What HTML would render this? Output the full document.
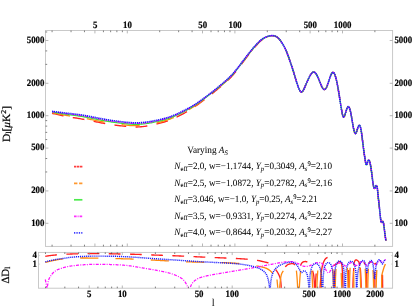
<!DOCTYPE html>
<html><head><meta charset="utf-8"><title>CMB power spectrum</title>
<style>
html,body{margin:0;padding:0;background:#fff;}
body{width:415px;height:308px;overflow:hidden;font-family:"Liberation Serif",serif;}
svg{display:block;will-change:transform;}
svg text{font-family:"Liberation Serif",serif;text-rendering:geometricPrecision;}
</style></head><body>
<svg width="415" height="308" viewBox="0 0 415 308">
<rect width="415" height="308" fill="#fff"/>
<defs>
<clipPath id="cm"><rect x="45.50" y="30.50" width="347.10" height="215.90"/></clipPath>
<clipPath id="cb"><rect x="38.50" y="252.40" width="354.10" height="35.50"/></clipPath>
</defs>
<g clip-path="url(#cm)">
<path d="M52.00 113.30 L53.00 113.50 L54.00 113.72 L55.00 113.94 L56.00 114.16 L57.00 114.39 L58.00 114.62 L59.00 114.85 L60.00 115.07 L61.00 115.30 L62.00 115.52 L63.00 115.74 L64.00 115.96 L65.00 116.16 L66.00 116.36 L67.00 116.56 L68.00 116.74 L69.00 116.92 L70.00 117.10 L71.00 117.26 L72.00 117.43 L73.00 117.58 L74.00 117.73 L75.00 117.88 L76.00 118.03 L77.00 118.18 L78.00 118.34 L79.00 118.51 L80.00 118.68 L81.00 118.86 L82.00 119.04 L83.00 119.22 L84.00 119.41 L85.00 119.60 L86.00 119.80 L87.00 120.00 L88.00 120.20 L89.00 120.40 L90.00 120.60 L91.00 120.80 L92.00 121.00 L93.00 121.21 L94.00 121.41 L95.00 121.61 L96.00 121.81 L97.00 122.01 L98.00 122.21 L99.00 122.41 L100.00 122.60 L101.00 122.79 L102.00 122.98 L103.00 123.17 L104.00 123.35 L105.00 123.53 L106.00 123.71 L107.00 123.89 L108.00 124.06 L109.00 124.22 L110.00 124.38 L111.00 124.54 L112.00 124.69 L113.00 124.84 L114.00 124.97 L115.00 125.11 L116.00 125.24 L117.00 125.36 L118.00 125.48 L119.00 125.60 L120.00 125.72 L121.00 125.83 L122.00 125.94 L123.00 126.05 L124.00 126.16 L125.00 126.27 L126.00 126.38 L127.00 126.48 L128.00 126.58 L129.00 126.67 L130.00 126.75 L131.00 126.83 L132.00 126.89 L133.00 126.93 L134.00 126.96 L135.00 126.98 L136.00 126.98 L137.00 126.96 L138.00 126.94 L139.00 126.89 L140.00 126.84 L141.00 126.76 L142.00 126.68 L143.00 126.57 L144.00 126.45 L145.00 126.31 L146.00 126.16 L147.00 126.00 L148.00 125.83 L149.00 125.64 L150.00 125.45 L151.00 125.24 L152.00 125.03 L153.00 124.81 L154.00 124.59 L155.00 124.36 L156.00 124.12 L157.00 123.89 L158.00 123.65 L159.00 123.40 L160.00 123.15 L161.00 122.89 L162.00 122.62 L163.00 122.35 L164.00 122.06 L165.00 121.76 L166.00 121.44 L167.00 121.11 L168.00 120.77 L169.00 120.41 L170.00 120.03 L171.00 119.63 L172.00 119.22 L173.00 118.80 L174.00 118.36 L175.00 117.90 L176.00 117.43 L177.00 116.96 L178.00 116.46 L179.00 115.96 L180.00 115.45 L181.00 114.93 L182.00 114.40 L183.00 113.86 L184.00 113.31 L185.00 112.75 L186.00 112.17 L187.00 111.59 L188.00 110.99 L189.00 110.39 L190.00 109.77 L191.00 109.14 L192.00 108.50 L193.00 107.84 L194.00 107.18 L195.00 106.50 L196.00 105.81 L197.00 105.12 L198.00 104.41 L199.00 103.69 L200.00 102.97 L201.00 102.24 L202.00 101.51 L203.00 100.76 L204.00 100.00 L205.00 99.24 L206.00 98.47 L207.00 97.70 L208.00 96.92 L209.00 96.13 L210.00 95.34 L211.00 94.54 L212.00 93.74 L213.00 92.93 L214.00 92.12 L215.00 91.30 L216.00 90.48 L217.00 89.66 L218.00 88.83 L219.00 88.00 L220.00 87.16 L221.00 86.32 L222.00 85.48 L223.00 84.63 L224.00 83.77 L225.00 82.89 L226.00 82.00 L227.00 81.09 L228.00 80.15 L229.00 79.19 L230.00 78.20 L231.00 77.17 L232.00 76.10 L233.00 74.99 L234.00 73.84 L235.00 72.65 L236.00 71.42 L237.00 70.16 L238.00 68.88 L239.00 67.57 L240.00 66.25 L241.00 64.91 L242.00 63.57 L243.00 62.22 L244.00 60.87 L245.00 59.53 L246.00 58.20 L247.00 56.89 L248.00 55.59 L249.00 54.31 L250.00 53.04 L251.00 51.80 L252.00 50.57 L253.00 49.36 L254.00 48.18 L255.00 47.01 L256.00 45.87 L257.00 44.74 L258.00 43.64 L259.00 42.59 L260.00 41.60 L261.00 40.68 L262.00 39.85 L263.00 39.12 L264.00 38.48 L265.00 37.92 L266.00 37.44 L267.00 37.03 L268.00 36.67 L269.00 36.35 L270.00 36.09 L271.00 35.91 L272.00 35.80 L273.00 35.78 L274.00 35.89 L275.00 36.12 L276.00 36.52 L277.00 37.10 L278.00 37.88 L279.00 38.87 L280.00 40.06 L281.00 41.41 L282.00 42.91 L283.00 44.52 L284.00 46.28 L285.00 48.21 L286.00 50.37 L287.00 52.79 L288.00 55.44 L289.00 58.24 L290.00 61.15 L290.25 61.89 L290.50 62.63 L290.75 63.36 L291.00 64.10 L291.25 64.84 L291.50 65.57 L291.75 66.31 L292.00 67.06 L292.25 67.81 L292.50 68.58 L292.75 69.36 L293.00 70.15 L293.25 70.95 L293.50 71.77 L293.75 72.59 L294.00 73.42 L294.25 74.26 L294.50 75.10 L294.75 75.94 L295.00 76.78 L295.25 77.62 L295.50 78.46 L295.75 79.29 L296.00 80.12 L296.25 80.94 L296.50 81.74 L296.75 82.54 L297.00 83.32 L297.25 84.09 L297.50 84.84 L297.75 85.57 L298.00 86.28 L298.25 86.97 L298.50 87.63 L298.75 88.26 L299.00 88.85 L299.25 89.41 L299.50 89.92 L299.75 90.39 L300.00 90.80 L300.25 91.16 L300.50 91.46 L300.75 91.70 L301.00 91.87 L301.25 91.98 L301.50 92.00 L301.75 91.95 L302.00 91.83 L302.25 91.65 L302.50 91.40 L302.75 91.10 L303.00 90.75 L303.25 90.35 L303.50 89.92 L303.75 89.44 L304.00 88.93 L304.25 88.40 L304.50 87.84 L304.75 87.27 L305.00 86.69 L305.25 86.09 L305.50 85.50 L305.75 84.91 L306.00 84.32 L306.25 83.73 L306.50 83.15 L306.75 82.57 L307.00 82.00 L307.25 81.43 L307.50 80.87 L307.75 80.32 L308.00 79.78 L308.25 79.24 L308.50 78.72 L308.75 78.20 L309.00 77.69 L309.25 77.20 L309.50 76.71 L309.75 76.24 L310.00 75.79 L310.25 75.35 L310.50 74.93 L310.75 74.53 L311.00 74.15 L311.25 73.80 L311.50 73.47 L311.75 73.17 L312.00 72.90 L312.25 72.66 L312.50 72.46 L312.75 72.29 L313.00 72.15 L313.25 72.06 L313.50 72.01 L313.75 72.00 L314.00 72.03 L314.25 72.11 L314.50 72.23 L314.75 72.39 L315.00 72.59 L315.25 72.82 L315.50 73.10 L315.75 73.40 L316.00 73.75 L316.25 74.12 L316.50 74.52 L316.75 74.95 L317.00 75.41 L317.25 75.89 L317.50 76.40 L317.75 76.93 L318.00 77.48 L318.25 78.05 L318.50 78.64 L318.75 79.24 L319.00 79.86 L319.25 80.48 L319.50 81.11 L319.75 81.74 L320.00 82.37 L320.25 83.00 L320.50 83.62 L320.75 84.22 L321.00 84.81 L321.25 85.38 L321.50 85.93 L321.75 86.46 L322.00 86.95 L322.25 87.41 L322.50 87.84 L322.75 88.22 L323.00 88.57 L323.25 88.86 L323.50 89.11 L323.75 89.30 L324.00 89.44 L324.25 89.51 L324.50 89.52 L324.75 89.46 L325.00 89.33 L325.25 89.13 L325.50 88.88 L325.75 88.56 L326.00 88.18 L326.25 87.76 L326.50 87.28 L326.75 86.75 L327.00 86.17 L327.25 85.56 L327.50 84.90 L327.75 84.21 L328.00 83.48 L328.25 82.73 L328.50 81.97 L328.75 81.19 L329.00 80.41 L329.25 79.63 L329.50 78.86 L329.75 78.11 L330.00 77.38 L330.25 76.68 L330.50 76.02 L330.75 75.40 L331.00 74.82 L331.25 74.29 L331.50 73.81 L331.75 73.39 L332.00 73.04 L332.25 72.76 L332.50 72.55 L332.75 72.42 L333.00 72.37 L333.25 72.42 L333.50 72.55 L333.75 72.77 L334.00 73.08 L334.25 73.48 L334.50 73.95 L334.75 74.51 L335.00 75.14 L335.25 75.85 L335.50 76.63 L335.75 77.48 L336.00 78.40 L336.25 79.38 L336.50 80.43 L336.75 81.54 L337.00 82.70 L337.25 83.92 L337.50 85.20 L337.75 86.53 L338.00 87.90 L338.25 89.33 L338.50 90.80 L338.75 92.31 L339.00 93.86 L339.25 95.44 L339.50 97.05 L339.75 98.66 L340.00 100.27 L340.25 101.89 L340.50 103.48 L340.75 105.06 L341.00 106.61 L341.25 108.12 L341.50 109.58 L341.75 110.98 L342.00 112.29 L342.25 113.49 L342.50 114.56 L342.75 115.47 L343.00 116.19 L343.25 116.70 L343.50 116.98 L343.75 117.03 L344.00 116.87 L344.25 116.52 L344.50 116.03 L344.75 115.41 L345.00 114.69 L345.25 113.90 L345.50 113.07 L345.75 112.23 L346.00 111.40 L346.25 110.59 L346.50 109.83 L346.75 109.11 L347.00 108.46 L347.25 107.88 L347.50 107.39 L347.75 107.01 L348.00 106.74 L348.25 106.60 L348.50 106.60 L348.75 106.75 L349.00 107.05 L349.25 107.50 L349.50 108.08 L349.75 108.78 L350.00 109.61 L350.25 110.55 L350.50 111.61 L350.75 112.76 L351.00 114.01 L351.25 115.34 L351.50 116.74 L351.75 118.19 L352.00 119.67 L352.25 121.15 L352.50 122.64 L352.75 124.09 L353.00 125.50 L353.25 126.85 L353.50 128.12 L353.75 129.29 L354.00 130.36 L354.25 131.29 L354.50 132.09 L354.75 132.72 L355.00 133.18 L355.25 133.44 L355.50 133.50 L355.75 133.35 L356.00 133.02 L356.25 132.54 L356.50 131.94 L356.75 131.24 L357.00 130.48 L357.25 129.68 L357.50 128.88 L357.75 128.09 L358.00 127.35 L358.25 126.68 L358.50 126.10 L358.75 125.64 L359.00 125.33 L359.25 125.19 L359.50 125.23 L359.75 125.47 L360.00 125.90 L360.25 126.53 L360.50 127.35 L360.75 128.37 L361.00 129.58 L361.25 130.99 L361.50 132.60 L361.75 134.38 L362.00 136.28 L362.25 138.28 L362.50 140.33 L362.75 142.39 L363.00 144.43 L363.25 146.43 L363.50 148.38 L363.75 150.27 L364.00 152.10 L364.25 153.84 L364.50 155.52 L364.75 157.14 L365.00 158.73 L365.25 160.32 L365.50 161.88 L365.75 163.27 L366.00 164.31 L366.25 164.87 L366.50 164.92 L366.75 164.59 L367.00 163.97 L367.25 163.19 L367.50 162.34 L367.75 161.55 L368.00 160.90 L368.25 160.41 L368.50 160.10 L368.75 159.99 L369.00 160.10 L369.25 160.44 L369.50 161.01 L369.75 161.77 L370.00 162.73 L370.25 163.85 L370.50 165.13 L370.75 166.54 L371.00 168.08 L371.25 169.74 L371.50 171.50 L371.75 173.36 L372.00 175.30 L372.25 177.31 L372.50 179.32 L372.75 181.27 L373.00 183.09 L373.25 184.71 L373.50 186.06 L373.75 187.12 L374.00 187.89 L374.25 188.35 L374.50 188.50 L374.75 188.35 L375.00 187.97 L375.25 187.44 L375.50 186.85 L375.75 186.29 L376.00 185.84 L376.25 185.58 L376.50 185.59 L376.75 185.93 L377.00 186.68 L377.25 187.91 L377.50 189.68 L377.75 191.94 L378.00 194.48 L378.25 197.09 L378.50 199.55 L378.75 201.80 L379.00 203.94 L379.25 206.12 L379.50 208.47 L379.75 210.99 L380.00 213.53 L380.25 215.95 L380.50 218.08 L380.75 219.84 L381.00 221.20 L381.25 222.08 L381.50 222.47 L381.75 222.45 L382.00 222.17 L382.25 221.77 L382.50 221.40 L382.75 221.22 L383.00 221.36 L383.25 221.97 L383.50 223.11 L383.75 224.68 L384.00 226.52 L384.25 228.50 L384.50 230.50 L384.75 232.48 L385.00 234.42 L385.25 236.26 L385.50 237.99 L385.75 239.56 L386.00 240.95" fill="none" stroke="#ff2020" stroke-width="1.35" stroke-dasharray="11.8 9.4"/>
<path d="M52.00 112.73 L53.00 112.90 L54.00 113.08 L55.00 113.27 L56.00 113.46 L57.00 113.66 L58.00 113.86 L59.00 114.06 L60.00 114.26 L61.00 114.46 L62.00 114.66 L63.00 114.85 L64.00 115.04 L65.00 115.22 L66.00 115.39 L67.00 115.56 L68.00 115.72 L69.00 115.88 L70.00 116.03 L71.00 116.18 L72.00 116.32 L73.00 116.46 L74.00 116.60 L75.00 116.74 L76.00 116.88 L77.00 117.03 L78.00 117.18 L79.00 117.34 L80.00 117.50 L81.00 117.67 L82.00 117.84 L83.00 118.02 L84.00 118.21 L85.00 118.39 L86.00 118.58 L87.00 118.77 L88.00 118.97 L89.00 119.16 L90.00 119.36 L91.00 119.56 L92.00 119.76 L93.00 119.96 L94.00 120.16 L95.00 120.36 L96.00 120.56 L97.00 120.76 L98.00 120.95 L99.00 121.15 L100.00 121.34 L101.00 121.53 L102.00 121.72 L103.00 121.91 L104.00 122.09 L105.00 122.27 L106.00 122.45 L107.00 122.63 L108.00 122.80 L109.00 122.96 L110.00 123.13 L111.00 123.28 L112.00 123.43 L113.00 123.58 L114.00 123.72 L115.00 123.85 L116.00 123.98 L117.00 124.11 L118.00 124.23 L119.00 124.35 L120.00 124.47 L121.00 124.58 L122.00 124.69 L123.00 124.80 L124.00 124.91 L125.00 125.02 L126.00 125.13 L127.00 125.24 L128.00 125.34 L129.00 125.43 L130.00 125.51 L131.00 125.58 L132.00 125.65 L133.00 125.69 L134.00 125.72 L135.00 125.74 L136.00 125.74 L137.00 125.73 L138.00 125.70 L139.00 125.66 L140.00 125.61 L141.00 125.54 L142.00 125.45 L143.00 125.35 L144.00 125.23 L145.00 125.10 L146.00 124.96 L147.00 124.80 L148.00 124.64 L149.00 124.46 L150.00 124.27 L151.00 124.08 L152.00 123.88 L153.00 123.67 L154.00 123.45 L155.00 123.23 L156.00 123.01 L157.00 122.78 L158.00 122.55 L159.00 122.31 L160.00 122.07 L161.00 121.82 L162.00 121.56 L163.00 121.29 L164.00 121.01 L165.00 120.72 L166.00 120.42 L167.00 120.10 L168.00 119.77 L169.00 119.41 L170.00 119.05 L171.00 118.66 L172.00 118.26 L173.00 117.85 L174.00 117.42 L175.00 116.98 L176.00 116.52 L177.00 116.05 L178.00 115.57 L179.00 115.08 L180.00 114.59 L181.00 114.08 L182.00 113.56 L183.00 113.03 L184.00 112.50 L185.00 111.95 L186.00 111.39 L187.00 110.83 L188.00 110.25 L189.00 109.66 L190.00 109.05 L191.00 108.44 L192.00 107.82 L193.00 107.18 L194.00 106.53 L195.00 105.87 L196.00 105.20 L197.00 104.51 L198.00 103.82 L199.00 103.12 L200.00 102.40 L201.00 101.68 L202.00 100.95 L203.00 100.21 L204.00 99.46 L205.00 98.71 L206.00 97.95 L207.00 97.18 L208.00 96.40 L209.00 95.62 L210.00 94.83 L211.00 94.04 L212.00 93.24 L213.00 92.44 L214.00 91.63 L215.00 90.82 L216.00 90.01 L217.00 89.19 L218.00 88.36 L219.00 87.53 L220.00 86.70 L221.00 85.86 L222.00 85.02 L223.00 84.18 L224.00 83.32 L225.00 82.45 L226.00 81.56 L227.00 80.65 L228.00 79.72 L229.00 78.76 L230.00 77.77 L231.00 76.74 L232.00 75.68 L233.00 74.57 L234.00 73.43 L235.00 72.24 L236.00 71.01 L237.00 69.76 L238.00 68.48 L239.00 67.18 L240.00 65.86 L241.00 64.52 L242.00 63.18 L243.00 61.84 L244.00 60.50 L245.00 59.17 L246.00 57.84 L247.00 56.53 L248.00 55.24 L249.00 53.96 L250.00 52.71 L251.00 51.47 L252.00 50.25 L253.00 49.05 L254.00 47.87 L255.00 46.71 L256.00 45.58 L257.00 44.46 L258.00 43.38 L259.00 42.35 L260.00 41.37 L261.00 40.47 L262.00 39.66 L263.00 38.94 L264.00 38.31 L265.00 37.77 L266.00 37.31 L267.00 36.91 L268.00 36.56 L269.00 36.26 L270.00 36.01 L271.00 35.83 L272.00 35.74 L273.00 35.74 L274.00 35.85 L275.00 36.10 L276.00 36.50 L277.00 37.09 L278.00 37.87 L279.00 38.87 L280.00 40.06 L281.00 41.41 L282.00 42.91 L283.00 44.52 L284.00 46.28 L285.00 48.21 L286.00 50.37 L287.00 52.79 L288.00 55.44 L289.00 58.24 L290.00 61.15 L290.25 61.89 L290.50 62.63 L290.75 63.36 L291.00 64.10 L291.25 64.84 L291.50 65.57 L291.75 66.31 L292.00 67.06 L292.25 67.81 L292.50 68.58 L292.75 69.36 L293.00 70.15 L293.25 70.95 L293.50 71.77 L293.75 72.59 L294.00 73.42 L294.25 74.26 L294.50 75.10 L294.75 75.94 L295.00 76.78 L295.25 77.62 L295.50 78.46 L295.75 79.29 L296.00 80.12 L296.25 80.94 L296.50 81.74 L296.75 82.54 L297.00 83.32 L297.25 84.09 L297.50 84.84 L297.75 85.57 L298.00 86.28 L298.25 86.97 L298.50 87.63 L298.75 88.26 L299.00 88.85 L299.25 89.41 L299.50 89.92 L299.75 90.39 L300.00 90.80 L300.25 91.16 L300.50 91.46 L300.75 91.70 L301.00 91.87 L301.25 91.98 L301.50 92.00 L301.75 91.95 L302.00 91.83 L302.25 91.65 L302.50 91.40 L302.75 91.10 L303.00 90.75 L303.25 90.35 L303.50 89.92 L303.75 89.44 L304.00 88.93 L304.25 88.40 L304.50 87.84 L304.75 87.27 L305.00 86.69 L305.25 86.09 L305.50 85.50 L305.75 84.91 L306.00 84.32 L306.25 83.73 L306.50 83.15 L306.75 82.57 L307.00 82.00 L307.25 81.43 L307.50 80.87 L307.75 80.32 L308.00 79.78 L308.25 79.24 L308.50 78.72 L308.75 78.20 L309.00 77.69 L309.25 77.20 L309.50 76.71 L309.75 76.24 L310.00 75.79 L310.25 75.35 L310.50 74.93 L310.75 74.53 L311.00 74.15 L311.25 73.80 L311.50 73.47 L311.75 73.17 L312.00 72.90 L312.25 72.66 L312.50 72.46 L312.75 72.29 L313.00 72.15 L313.25 72.06 L313.50 72.01 L313.75 72.00 L314.00 72.03 L314.25 72.11 L314.50 72.23 L314.75 72.39 L315.00 72.59 L315.25 72.82 L315.50 73.10 L315.75 73.40 L316.00 73.75 L316.25 74.12 L316.50 74.52 L316.75 74.95 L317.00 75.41 L317.25 75.89 L317.50 76.40 L317.75 76.93 L318.00 77.48 L318.25 78.05 L318.50 78.64 L318.75 79.24 L319.00 79.86 L319.25 80.48 L319.50 81.11 L319.75 81.74 L320.00 82.37 L320.25 83.00 L320.50 83.62 L320.75 84.22 L321.00 84.81 L321.25 85.38 L321.50 85.93 L321.75 86.46 L322.00 86.95 L322.25 87.41 L322.50 87.84 L322.75 88.22 L323.00 88.57 L323.25 88.86 L323.50 89.11 L323.75 89.30 L324.00 89.44 L324.25 89.51 L324.50 89.52 L324.75 89.46 L325.00 89.33 L325.25 89.13 L325.50 88.88 L325.75 88.56 L326.00 88.18 L326.25 87.76 L326.50 87.28 L326.75 86.75 L327.00 86.17 L327.25 85.56 L327.50 84.90 L327.75 84.21 L328.00 83.48 L328.25 82.73 L328.50 81.97 L328.75 81.19 L329.00 80.41 L329.25 79.63 L329.50 78.86 L329.75 78.11 L330.00 77.38 L330.25 76.68 L330.50 76.02 L330.75 75.40 L331.00 74.82 L331.25 74.29 L331.50 73.81 L331.75 73.39 L332.00 73.04 L332.25 72.76 L332.50 72.55 L332.75 72.42 L333.00 72.37 L333.25 72.42 L333.50 72.55 L333.75 72.77 L334.00 73.08 L334.25 73.48 L334.50 73.95 L334.75 74.51 L335.00 75.14 L335.25 75.85 L335.50 76.63 L335.75 77.48 L336.00 78.40 L336.25 79.38 L336.50 80.43 L336.75 81.54 L337.00 82.70 L337.25 83.92 L337.50 85.20 L337.75 86.53 L338.00 87.90 L338.25 89.33 L338.50 90.80 L338.75 92.31 L339.00 93.86 L339.25 95.44 L339.50 97.05 L339.75 98.66 L340.00 100.27 L340.25 101.89 L340.50 103.48 L340.75 105.06 L341.00 106.61 L341.25 108.12 L341.50 109.58 L341.75 110.98 L342.00 112.29 L342.25 113.49 L342.50 114.56 L342.75 115.47 L343.00 116.19 L343.25 116.70 L343.50 116.98 L343.75 117.03 L344.00 116.87 L344.25 116.52 L344.50 116.03 L344.75 115.41 L345.00 114.69 L345.25 113.90 L345.50 113.07 L345.75 112.23 L346.00 111.40 L346.25 110.59 L346.50 109.83 L346.75 109.11 L347.00 108.46 L347.25 107.88 L347.50 107.39 L347.75 107.01 L348.00 106.74 L348.25 106.60 L348.50 106.60 L348.75 106.75 L349.00 107.05 L349.25 107.50 L349.50 108.08 L349.75 108.78 L350.00 109.61 L350.25 110.55 L350.50 111.61 L350.75 112.76 L351.00 114.01 L351.25 115.34 L351.50 116.74 L351.75 118.19 L352.00 119.67 L352.25 121.15 L352.50 122.64 L352.75 124.09 L353.00 125.50 L353.25 126.85 L353.50 128.12 L353.75 129.29 L354.00 130.36 L354.25 131.29 L354.50 132.09 L354.75 132.72 L355.00 133.18 L355.25 133.44 L355.50 133.50 L355.75 133.35 L356.00 133.02 L356.25 132.54 L356.50 131.94 L356.75 131.24 L357.00 130.48 L357.25 129.68 L357.50 128.88 L357.75 128.09 L358.00 127.35 L358.25 126.68 L358.50 126.10 L358.75 125.64 L359.00 125.33 L359.25 125.19 L359.50 125.23 L359.75 125.47 L360.00 125.90 L360.25 126.53 L360.50 127.35 L360.75 128.37 L361.00 129.58 L361.25 130.99 L361.50 132.60 L361.75 134.38 L362.00 136.28 L362.25 138.28 L362.50 140.33 L362.75 142.39 L363.00 144.43 L363.25 146.43 L363.50 148.38 L363.75 150.27 L364.00 152.10 L364.25 153.84 L364.50 155.52 L364.75 157.14 L365.00 158.73 L365.25 160.32 L365.50 161.88 L365.75 163.27 L366.00 164.31 L366.25 164.87 L366.50 164.92 L366.75 164.59 L367.00 163.97 L367.25 163.19 L367.50 162.34 L367.75 161.55 L368.00 160.90 L368.25 160.41 L368.50 160.10 L368.75 159.99 L369.00 160.10 L369.25 160.44 L369.50 161.01 L369.75 161.77 L370.00 162.73 L370.25 163.85 L370.50 165.13 L370.75 166.54 L371.00 168.08 L371.25 169.74 L371.50 171.50 L371.75 173.36 L372.00 175.30 L372.25 177.31 L372.50 179.32 L372.75 181.27 L373.00 183.09 L373.25 184.71 L373.50 186.06 L373.75 187.12 L374.00 187.89 L374.25 188.35 L374.50 188.50 L374.75 188.35 L375.00 187.97 L375.25 187.44 L375.50 186.85 L375.75 186.29 L376.00 185.84 L376.25 185.58 L376.50 185.59 L376.75 185.93 L377.00 186.68 L377.25 187.91 L377.50 189.68 L377.75 191.94 L378.00 194.48 L378.25 197.09 L378.50 199.55 L378.75 201.80 L379.00 203.94 L379.25 206.12 L379.50 208.47 L379.75 210.99 L380.00 213.53 L380.25 215.95 L380.50 218.08 L380.75 219.84 L381.00 221.20 L381.25 222.08 L381.50 222.47 L381.75 222.45 L382.00 222.17 L382.25 221.77 L382.50 221.40 L382.75 221.22 L383.00 221.36 L383.25 221.97 L383.50 223.11 L383.75 224.68 L384.00 226.52 L384.25 228.50 L384.50 230.50 L384.75 232.48 L385.00 234.42 L385.25 236.26 L385.50 237.99 L385.75 239.56 L386.00 240.95" fill="none" stroke="#ff8a10" stroke-width="1.25" stroke-dasharray="18.2 17.1"/>
<path d="M52.00 112.08 L53.00 112.22 L54.00 112.36 L55.00 112.51 L56.00 112.67 L57.00 112.84 L58.00 113.01 L59.00 113.18 L60.00 113.35 L61.00 113.51 L62.00 113.68 L63.00 113.84 L64.00 114.00 L65.00 114.15 L66.00 114.30 L67.00 114.43 L68.00 114.57 L69.00 114.70 L70.00 114.83 L71.00 114.95 L72.00 115.07 L73.00 115.20 L74.00 115.32 L75.00 115.45 L76.00 115.58 L77.00 115.71 L78.00 115.86 L79.00 116.01 L80.00 116.16 L81.00 116.33 L82.00 116.49 L83.00 116.66 L84.00 116.84 L85.00 117.02 L86.00 117.20 L87.00 117.39 L88.00 117.57 L89.00 117.76 L90.00 117.96 L91.00 118.15 L92.00 118.35 L93.00 118.54 L94.00 118.74 L95.00 118.94 L96.00 119.13 L97.00 119.33 L98.00 119.53 L99.00 119.72 L100.00 119.91 L101.00 120.10 L102.00 120.29 L103.00 120.48 L104.00 120.66 L105.00 120.85 L106.00 121.03 L107.00 121.20 L108.00 121.37 L109.00 121.54 L110.00 121.70 L111.00 121.86 L112.00 122.01 L113.00 122.15 L114.00 122.29 L115.00 122.43 L116.00 122.56 L117.00 122.69 L118.00 122.81 L119.00 122.93 L120.00 123.05 L121.00 123.16 L122.00 123.28 L123.00 123.39 L124.00 123.50 L125.00 123.61 L126.00 123.72 L127.00 123.82 L128.00 123.92 L129.00 124.02 L130.00 124.10 L131.00 124.18 L132.00 124.24 L133.00 124.29 L134.00 124.32 L135.00 124.34 L136.00 124.34 L137.00 124.33 L138.00 124.31 L139.00 124.27 L140.00 124.21 L141.00 124.14 L142.00 124.06 L143.00 123.97 L144.00 123.85 L145.00 123.73 L146.00 123.59 L147.00 123.45 L148.00 123.29 L149.00 123.12 L150.00 122.94 L151.00 122.76 L152.00 122.57 L153.00 122.37 L154.00 122.16 L155.00 121.95 L156.00 121.74 L157.00 121.52 L158.00 121.30 L159.00 121.08 L160.00 120.85 L161.00 120.61 L162.00 120.36 L163.00 120.10 L164.00 119.83 L165.00 119.55 L166.00 119.26 L167.00 118.95 L168.00 118.63 L169.00 118.29 L170.00 117.94 L171.00 117.56 L172.00 117.18 L173.00 116.77 L174.00 116.36 L175.00 115.93 L176.00 115.49 L177.00 115.03 L178.00 114.57 L179.00 114.09 L180.00 113.60 L181.00 113.11 L182.00 112.61 L183.00 112.10 L184.00 111.58 L185.00 111.05 L186.00 110.51 L187.00 109.96 L188.00 109.40 L189.00 108.83 L190.00 108.25 L191.00 107.65 L192.00 107.05 L193.00 106.43 L194.00 105.80 L195.00 105.16 L196.00 104.50 L197.00 103.83 L198.00 103.15 L199.00 102.46 L200.00 101.76 L201.00 101.05 L202.00 100.32 L203.00 99.59 L204.00 98.85 L205.00 98.11 L206.00 97.35 L207.00 96.59 L208.00 95.82 L209.00 95.04 L210.00 94.26 L211.00 93.48 L212.00 92.68 L213.00 91.89 L214.00 91.09 L215.00 90.28 L216.00 89.47 L217.00 88.65 L218.00 87.83 L219.00 87.01 L220.00 86.18 L221.00 85.35 L222.00 84.51 L223.00 83.67 L224.00 82.81 L225.00 81.95 L226.00 81.06 L227.00 80.16 L228.00 79.23 L229.00 78.27 L230.00 77.28 L231.00 76.26 L232.00 75.20 L233.00 74.10 L234.00 72.96 L235.00 71.77 L236.00 70.55 L237.00 69.30 L238.00 68.03 L239.00 66.73 L240.00 65.41 L241.00 64.09 L242.00 62.75 L243.00 61.42 L244.00 60.08 L245.00 58.75 L246.00 57.43 L247.00 56.13 L248.00 54.84 L249.00 53.57 L250.00 52.32 L251.00 51.09 L252.00 49.88 L253.00 48.69 L254.00 47.52 L255.00 46.37 L256.00 45.25 L257.00 44.15 L258.00 43.08 L259.00 42.07 L260.00 41.11 L261.00 40.23 L262.00 39.43 L263.00 38.74 L264.00 38.13 L265.00 37.60 L266.00 37.15 L267.00 36.77 L268.00 36.43 L269.00 36.15 L270.00 35.92 L271.00 35.75 L272.00 35.67 L273.00 35.69 L274.00 35.81 L275.00 36.07 L276.00 36.48 L277.00 37.07 L278.00 37.87 L279.00 38.87 L280.00 40.06 L281.00 41.41 L282.00 42.91 L283.00 44.52 L284.00 46.28 L285.00 48.21 L286.00 50.37 L287.00 52.79 L288.00 55.44 L289.00 58.24 L290.00 61.15 L290.25 61.89 L290.50 62.63 L290.75 63.36 L291.00 64.10 L291.25 64.84 L291.50 65.57 L291.75 66.31 L292.00 67.06 L292.25 67.81 L292.50 68.58 L292.75 69.36 L293.00 70.15 L293.25 70.95 L293.50 71.77 L293.75 72.59 L294.00 73.42 L294.25 74.26 L294.50 75.10 L294.75 75.94 L295.00 76.78 L295.25 77.62 L295.50 78.46 L295.75 79.29 L296.00 80.12 L296.25 80.94 L296.50 81.74 L296.75 82.54 L297.00 83.32 L297.25 84.09 L297.50 84.84 L297.75 85.57 L298.00 86.28 L298.25 86.97 L298.50 87.63 L298.75 88.26 L299.00 88.85 L299.25 89.41 L299.50 89.92 L299.75 90.39 L300.00 90.80 L300.25 91.16 L300.50 91.46 L300.75 91.70 L301.00 91.87 L301.25 91.98 L301.50 92.00 L301.75 91.95 L302.00 91.83 L302.25 91.65 L302.50 91.40 L302.75 91.10 L303.00 90.75 L303.25 90.35 L303.50 89.92 L303.75 89.44 L304.00 88.93 L304.25 88.40 L304.50 87.84 L304.75 87.27 L305.00 86.69 L305.25 86.09 L305.50 85.50 L305.75 84.91 L306.00 84.32 L306.25 83.73 L306.50 83.15 L306.75 82.57 L307.00 82.00 L307.25 81.43 L307.50 80.87 L307.75 80.32 L308.00 79.78 L308.25 79.24 L308.50 78.72 L308.75 78.20 L309.00 77.69 L309.25 77.20 L309.50 76.71 L309.75 76.24 L310.00 75.79 L310.25 75.35 L310.50 74.93 L310.75 74.53 L311.00 74.15 L311.25 73.80 L311.50 73.47 L311.75 73.17 L312.00 72.90 L312.25 72.66 L312.50 72.46 L312.75 72.29 L313.00 72.15 L313.25 72.06 L313.50 72.01 L313.75 72.00 L314.00 72.03 L314.25 72.11 L314.50 72.23 L314.75 72.39 L315.00 72.59 L315.25 72.82 L315.50 73.10 L315.75 73.40 L316.00 73.75 L316.25 74.12 L316.50 74.52 L316.75 74.95 L317.00 75.41 L317.25 75.89 L317.50 76.40 L317.75 76.93 L318.00 77.48 L318.25 78.05 L318.50 78.64 L318.75 79.24 L319.00 79.86 L319.25 80.48 L319.50 81.11 L319.75 81.74 L320.00 82.37 L320.25 83.00 L320.50 83.62 L320.75 84.22 L321.00 84.81 L321.25 85.38 L321.50 85.93 L321.75 86.46 L322.00 86.95 L322.25 87.41 L322.50 87.84 L322.75 88.22 L323.00 88.57 L323.25 88.86 L323.50 89.11 L323.75 89.30 L324.00 89.44 L324.25 89.51 L324.50 89.52 L324.75 89.46 L325.00 89.33 L325.25 89.13 L325.50 88.88 L325.75 88.56 L326.00 88.18 L326.25 87.76 L326.50 87.28 L326.75 86.75 L327.00 86.17 L327.25 85.56 L327.50 84.90 L327.75 84.21 L328.00 83.48 L328.25 82.73 L328.50 81.97 L328.75 81.19 L329.00 80.41 L329.25 79.63 L329.50 78.86 L329.75 78.11 L330.00 77.38 L330.25 76.68 L330.50 76.02 L330.75 75.40 L331.00 74.82 L331.25 74.29 L331.50 73.81 L331.75 73.39 L332.00 73.04 L332.25 72.76 L332.50 72.55 L332.75 72.42 L333.00 72.37 L333.25 72.42 L333.50 72.55 L333.75 72.77 L334.00 73.08 L334.25 73.48 L334.50 73.95 L334.75 74.51 L335.00 75.14 L335.25 75.85 L335.50 76.63 L335.75 77.48 L336.00 78.40 L336.25 79.38 L336.50 80.43 L336.75 81.54 L337.00 82.70 L337.25 83.92 L337.50 85.20 L337.75 86.53 L338.00 87.90 L338.25 89.33 L338.50 90.80 L338.75 92.31 L339.00 93.86 L339.25 95.44 L339.50 97.05 L339.75 98.66 L340.00 100.27 L340.25 101.89 L340.50 103.48 L340.75 105.06 L341.00 106.61 L341.25 108.12 L341.50 109.58 L341.75 110.98 L342.00 112.29 L342.25 113.49 L342.50 114.56 L342.75 115.47 L343.00 116.19 L343.25 116.70 L343.50 116.98 L343.75 117.03 L344.00 116.87 L344.25 116.52 L344.50 116.03 L344.75 115.41 L345.00 114.69 L345.25 113.90 L345.50 113.07 L345.75 112.23 L346.00 111.40 L346.25 110.59 L346.50 109.83 L346.75 109.11 L347.00 108.46 L347.25 107.88 L347.50 107.39 L347.75 107.01 L348.00 106.74 L348.25 106.60 L348.50 106.60 L348.75 106.75 L349.00 107.05 L349.25 107.50 L349.50 108.08 L349.75 108.78 L350.00 109.61 L350.25 110.55 L350.50 111.61 L350.75 112.76 L351.00 114.01 L351.25 115.34 L351.50 116.74 L351.75 118.19 L352.00 119.67 L352.25 121.15 L352.50 122.64 L352.75 124.09 L353.00 125.50 L353.25 126.85 L353.50 128.12 L353.75 129.29 L354.00 130.36 L354.25 131.29 L354.50 132.09 L354.75 132.72 L355.00 133.18 L355.25 133.44 L355.50 133.50 L355.75 133.35 L356.00 133.02 L356.25 132.54 L356.50 131.94 L356.75 131.24 L357.00 130.48 L357.25 129.68 L357.50 128.88 L357.75 128.09 L358.00 127.35 L358.25 126.68 L358.50 126.10 L358.75 125.64 L359.00 125.33 L359.25 125.19 L359.50 125.23 L359.75 125.47 L360.00 125.90 L360.25 126.53 L360.50 127.35 L360.75 128.37 L361.00 129.58 L361.25 130.99 L361.50 132.60 L361.75 134.38 L362.00 136.28 L362.25 138.28 L362.50 140.33 L362.75 142.39 L363.00 144.43 L363.25 146.43 L363.50 148.38 L363.75 150.27 L364.00 152.10 L364.25 153.84 L364.50 155.52 L364.75 157.14 L365.00 158.73 L365.25 160.32 L365.50 161.88 L365.75 163.27 L366.00 164.31 L366.25 164.87 L366.50 164.92 L366.75 164.59 L367.00 163.97 L367.25 163.19 L367.50 162.34 L367.75 161.55 L368.00 160.90 L368.25 160.41 L368.50 160.10 L368.75 159.99 L369.00 160.10 L369.25 160.44 L369.50 161.01 L369.75 161.77 L370.00 162.73 L370.25 163.85 L370.50 165.13 L370.75 166.54 L371.00 168.08 L371.25 169.74 L371.50 171.50 L371.75 173.36 L372.00 175.30 L372.25 177.31 L372.50 179.32 L372.75 181.27 L373.00 183.09 L373.25 184.71 L373.50 186.06 L373.75 187.12 L374.00 187.89 L374.25 188.35 L374.50 188.50 L374.75 188.35 L375.00 187.97 L375.25 187.44 L375.50 186.85 L375.75 186.29 L376.00 185.84 L376.25 185.58 L376.50 185.59 L376.75 185.93 L377.00 186.68 L377.25 187.91 L377.50 189.68 L377.75 191.94 L378.00 194.48 L378.25 197.09 L378.50 199.55 L378.75 201.80 L379.00 203.94 L379.25 206.12 L379.50 208.47 L379.75 210.99 L380.00 213.53 L380.25 215.95 L380.50 218.08 L380.75 219.84 L381.00 221.20 L381.25 222.08 L381.50 222.47 L381.75 222.45 L382.00 222.17 L382.25 221.77 L382.50 221.40 L382.75 221.22 L383.00 221.36 L383.25 221.97 L383.50 223.11 L383.75 224.68 L384.00 226.52 L384.25 228.50 L384.50 230.50 L384.75 232.48 L385.00 234.42 L385.25 236.26 L385.50 237.99 L385.75 239.56 L386.00 240.95" fill="none" stroke="#30e830" stroke-width="1.25"/>
<path d="M52.00 111.70 L53.00 111.82 L54.00 111.94 L55.00 112.07 L56.00 112.21 L57.00 112.35 L58.00 112.50 L59.00 112.65 L60.00 112.81 L61.00 112.96 L62.00 113.10 L63.00 113.25 L64.00 113.39 L65.00 113.52 L66.00 113.65 L67.00 113.77 L68.00 113.89 L69.00 114.00 L70.00 114.12 L71.00 114.23 L72.00 114.34 L73.00 114.45 L74.00 114.57 L75.00 114.69 L76.00 114.81 L77.00 114.94 L78.00 115.08 L79.00 115.23 L80.00 115.38 L81.00 115.53 L82.00 115.70 L83.00 115.86 L84.00 116.03 L85.00 116.21 L86.00 116.39 L87.00 116.57 L88.00 116.76 L89.00 116.94 L90.00 117.13 L91.00 117.32 L92.00 117.52 L93.00 117.71 L94.00 117.91 L95.00 118.10 L96.00 118.30 L97.00 118.49 L98.00 118.69 L99.00 118.88 L100.00 119.07 L101.00 119.26 L102.00 119.45 L103.00 119.64 L104.00 119.82 L105.00 120.01 L106.00 120.19 L107.00 120.36 L108.00 120.53 L109.00 120.70 L110.00 120.86 L111.00 121.02 L112.00 121.17 L113.00 121.32 L114.00 121.46 L115.00 121.59 L116.00 121.72 L117.00 121.85 L118.00 121.97 L119.00 122.09 L120.00 122.21 L121.00 122.33 L122.00 122.44 L123.00 122.55 L124.00 122.67 L125.00 122.78 L126.00 122.89 L127.00 122.99 L128.00 123.09 L129.00 123.19 L130.00 123.27 L131.00 123.35 L132.00 123.41 L133.00 123.46 L134.00 123.50 L135.00 123.51 L136.00 123.52 L137.00 123.51 L138.00 123.48 L139.00 123.45 L140.00 123.39 L141.00 123.33 L142.00 123.25 L143.00 123.15 L144.00 123.04 L145.00 122.92 L146.00 122.79 L147.00 122.65 L148.00 122.50 L149.00 122.33 L150.00 122.16 L151.00 121.98 L152.00 121.80 L153.00 121.60 L154.00 121.41 L155.00 121.20 L156.00 121.00 L157.00 120.79 L158.00 120.57 L159.00 120.35 L160.00 120.13 L161.00 119.89 L162.00 119.65 L163.00 119.40 L164.00 119.14 L165.00 118.86 L166.00 118.58 L167.00 118.28 L168.00 117.96 L169.00 117.63 L170.00 117.28 L171.00 116.92 L172.00 116.54 L173.00 116.14 L174.00 115.73 L175.00 115.31 L176.00 114.88 L177.00 114.43 L178.00 113.97 L179.00 113.51 L180.00 113.03 L181.00 112.54 L182.00 112.05 L183.00 111.55 L184.00 111.04 L185.00 110.52 L186.00 109.99 L187.00 109.45 L188.00 108.90 L189.00 108.34 L190.00 107.77 L191.00 107.19 L192.00 106.60 L193.00 105.99 L194.00 105.37 L195.00 104.74 L196.00 104.09 L197.00 103.43 L198.00 102.76 L199.00 102.07 L200.00 101.38 L201.00 100.67 L202.00 99.95 L203.00 99.23 L204.00 98.49 L205.00 97.75 L206.00 97.00 L207.00 96.24 L208.00 95.47 L209.00 94.70 L210.00 93.93 L211.00 93.14 L212.00 92.35 L213.00 91.56 L214.00 90.76 L215.00 89.96 L216.00 89.15 L217.00 88.34 L218.00 87.52 L219.00 86.70 L220.00 85.87 L221.00 85.04 L222.00 84.21 L223.00 83.37 L224.00 82.52 L225.00 81.65 L226.00 80.77 L227.00 79.87 L228.00 78.94 L229.00 77.98 L230.00 77.00 L231.00 75.98 L232.00 74.92 L233.00 73.82 L234.00 72.68 L235.00 71.50 L236.00 70.28 L237.00 69.03 L238.00 67.76 L239.00 66.47 L240.00 65.15 L241.00 63.83 L242.00 62.50 L243.00 61.16 L244.00 59.83 L245.00 58.51 L246.00 57.19 L247.00 55.89 L248.00 54.61 L249.00 53.34 L250.00 52.10 L251.00 50.87 L252.00 49.66 L253.00 48.48 L254.00 47.31 L255.00 46.17 L256.00 45.05 L257.00 43.96 L258.00 42.91 L259.00 41.90 L260.00 40.96 L261.00 40.09 L262.00 39.30 L263.00 38.62 L264.00 38.02 L265.00 37.51 L266.00 37.06 L267.00 36.68 L268.00 36.36 L269.00 36.08 L270.00 35.86 L271.00 35.71 L272.00 35.63 L273.00 35.65 L274.00 35.79 L275.00 36.05 L276.00 36.47 L277.00 37.07 L278.00 37.86 L279.00 38.87 L280.00 40.06 L281.00 41.41 L282.00 42.91 L283.00 44.52 L284.00 46.28 L285.00 48.21 L286.00 50.37 L287.00 52.79 L288.00 55.44 L289.00 58.24 L290.00 61.15 L290.25 61.89 L290.50 62.63 L290.75 63.36 L291.00 64.10 L291.25 64.84 L291.50 65.57 L291.75 66.31 L292.00 67.06 L292.25 67.81 L292.50 68.58 L292.75 69.36 L293.00 70.15 L293.25 70.95 L293.50 71.77 L293.75 72.59 L294.00 73.42 L294.25 74.26 L294.50 75.10 L294.75 75.94 L295.00 76.78 L295.25 77.62 L295.50 78.46 L295.75 79.29 L296.00 80.12 L296.25 80.94 L296.50 81.74 L296.75 82.54 L297.00 83.32 L297.25 84.09 L297.50 84.84 L297.75 85.57 L298.00 86.28 L298.25 86.97 L298.50 87.63 L298.75 88.26 L299.00 88.85 L299.25 89.41 L299.50 89.92 L299.75 90.39 L300.00 90.80 L300.25 91.16 L300.50 91.46 L300.75 91.70 L301.00 91.87 L301.25 91.98 L301.50 92.00 L301.75 91.95 L302.00 91.83 L302.25 91.65 L302.50 91.40 L302.75 91.10 L303.00 90.75 L303.25 90.35 L303.50 89.92 L303.75 89.44 L304.00 88.93 L304.25 88.40 L304.50 87.84 L304.75 87.27 L305.00 86.69 L305.25 86.09 L305.50 85.50 L305.75 84.91 L306.00 84.32 L306.25 83.73 L306.50 83.15 L306.75 82.57 L307.00 82.00 L307.25 81.43 L307.50 80.87 L307.75 80.32 L308.00 79.78 L308.25 79.24 L308.50 78.72 L308.75 78.20 L309.00 77.69 L309.25 77.20 L309.50 76.71 L309.75 76.24 L310.00 75.79 L310.25 75.35 L310.50 74.93 L310.75 74.53 L311.00 74.15 L311.25 73.80 L311.50 73.47 L311.75 73.17 L312.00 72.90 L312.25 72.66 L312.50 72.46 L312.75 72.29 L313.00 72.15 L313.25 72.06 L313.50 72.01 L313.75 72.00 L314.00 72.03 L314.25 72.11 L314.50 72.23 L314.75 72.39 L315.00 72.59 L315.25 72.82 L315.50 73.10 L315.75 73.40 L316.00 73.75 L316.25 74.12 L316.50 74.52 L316.75 74.95 L317.00 75.41 L317.25 75.89 L317.50 76.40 L317.75 76.93 L318.00 77.48 L318.25 78.05 L318.50 78.64 L318.75 79.24 L319.00 79.86 L319.25 80.48 L319.50 81.11 L319.75 81.74 L320.00 82.37 L320.25 83.00 L320.50 83.62 L320.75 84.22 L321.00 84.81 L321.25 85.38 L321.50 85.93 L321.75 86.46 L322.00 86.95 L322.25 87.41 L322.50 87.84 L322.75 88.22 L323.00 88.57 L323.25 88.86 L323.50 89.11 L323.75 89.30 L324.00 89.44 L324.25 89.51 L324.50 89.52 L324.75 89.46 L325.00 89.33 L325.25 89.13 L325.50 88.88 L325.75 88.56 L326.00 88.18 L326.25 87.76 L326.50 87.28 L326.75 86.75 L327.00 86.17 L327.25 85.56 L327.50 84.90 L327.75 84.21 L328.00 83.48 L328.25 82.73 L328.50 81.97 L328.75 81.19 L329.00 80.41 L329.25 79.63 L329.50 78.86 L329.75 78.11 L330.00 77.38 L330.25 76.68 L330.50 76.02 L330.75 75.40 L331.00 74.82 L331.25 74.29 L331.50 73.81 L331.75 73.39 L332.00 73.04 L332.25 72.76 L332.50 72.55 L332.75 72.42 L333.00 72.37 L333.25 72.42 L333.50 72.55 L333.75 72.77 L334.00 73.08 L334.25 73.48 L334.50 73.95 L334.75 74.51 L335.00 75.14 L335.25 75.85 L335.50 76.63 L335.75 77.48 L336.00 78.40 L336.25 79.38 L336.50 80.43 L336.75 81.54 L337.00 82.70 L337.25 83.92 L337.50 85.20 L337.75 86.53 L338.00 87.90 L338.25 89.33 L338.50 90.80 L338.75 92.31 L339.00 93.86 L339.25 95.44 L339.50 97.05 L339.75 98.66 L340.00 100.27 L340.25 101.89 L340.50 103.48 L340.75 105.06 L341.00 106.61 L341.25 108.12 L341.50 109.58 L341.75 110.98 L342.00 112.29 L342.25 113.49 L342.50 114.56 L342.75 115.47 L343.00 116.19 L343.25 116.70 L343.50 116.98 L343.75 117.03 L344.00 116.87 L344.25 116.52 L344.50 116.03 L344.75 115.41 L345.00 114.69 L345.25 113.90 L345.50 113.07 L345.75 112.23 L346.00 111.40 L346.25 110.59 L346.50 109.83 L346.75 109.11 L347.00 108.46 L347.25 107.88 L347.50 107.39 L347.75 107.01 L348.00 106.74 L348.25 106.60 L348.50 106.60 L348.75 106.75 L349.00 107.05 L349.25 107.50 L349.50 108.08 L349.75 108.78 L350.00 109.61 L350.25 110.55 L350.50 111.61 L350.75 112.76 L351.00 114.01 L351.25 115.34 L351.50 116.74 L351.75 118.19 L352.00 119.67 L352.25 121.15 L352.50 122.64 L352.75 124.09 L353.00 125.50 L353.25 126.85 L353.50 128.12 L353.75 129.29 L354.00 130.36 L354.25 131.29 L354.50 132.09 L354.75 132.72 L355.00 133.18 L355.25 133.44 L355.50 133.50 L355.75 133.35 L356.00 133.02 L356.25 132.54 L356.50 131.94 L356.75 131.24 L357.00 130.48 L357.25 129.68 L357.50 128.88 L357.75 128.09 L358.00 127.35 L358.25 126.68 L358.50 126.10 L358.75 125.64 L359.00 125.33 L359.25 125.19 L359.50 125.23 L359.75 125.47 L360.00 125.90 L360.25 126.53 L360.50 127.35 L360.75 128.37 L361.00 129.58 L361.25 130.99 L361.50 132.60 L361.75 134.38 L362.00 136.28 L362.25 138.28 L362.50 140.33 L362.75 142.39 L363.00 144.43 L363.25 146.43 L363.50 148.38 L363.75 150.27 L364.00 152.10 L364.25 153.84 L364.50 155.52 L364.75 157.14 L365.00 158.73 L365.25 160.32 L365.50 161.88 L365.75 163.27 L366.00 164.31 L366.25 164.87 L366.50 164.92 L366.75 164.59 L367.00 163.97 L367.25 163.19 L367.50 162.34 L367.75 161.55 L368.00 160.90 L368.25 160.41 L368.50 160.10 L368.75 159.99 L369.00 160.10 L369.25 160.44 L369.50 161.01 L369.75 161.77 L370.00 162.73 L370.25 163.85 L370.50 165.13 L370.75 166.54 L371.00 168.08 L371.25 169.74 L371.50 171.50 L371.75 173.36 L372.00 175.30 L372.25 177.31 L372.50 179.32 L372.75 181.27 L373.00 183.09 L373.25 184.71 L373.50 186.06 L373.75 187.12 L374.00 187.89 L374.25 188.35 L374.50 188.50 L374.75 188.35 L375.00 187.97 L375.25 187.44 L375.50 186.85 L375.75 186.29 L376.00 185.84 L376.25 185.58 L376.50 185.59 L376.75 185.93 L377.00 186.68 L377.25 187.91 L377.50 189.68 L377.75 191.94 L378.00 194.48 L378.25 197.09 L378.50 199.55 L378.75 201.80 L379.00 203.94 L379.25 206.12 L379.50 208.47 L379.75 210.99 L380.00 213.53 L380.25 215.95 L380.50 218.08 L380.75 219.84 L381.00 221.20 L381.25 222.08 L381.50 222.47 L381.75 222.45 L382.00 222.17 L382.25 221.77 L382.50 221.40 L382.75 221.22 L383.00 221.36 L383.25 221.97 L383.50 223.11 L383.75 224.68 L384.00 226.52 L384.25 228.50 L384.50 230.50 L384.75 232.48 L385.00 234.42 L385.25 236.26 L385.50 237.99 L385.75 239.56 L386.00 240.95" fill="none" stroke="#ff10ff" stroke-width="1.25" stroke-dasharray="3 1.3 1 1.3"/>
<path d="M52.00 111.40 L53.00 111.49 L54.00 111.60 L55.00 111.72 L56.00 111.84 L57.00 111.97 L58.00 112.10 L59.00 112.24 L60.00 112.37 L61.00 112.51 L62.00 112.64 L63.00 112.77 L64.00 112.90 L65.00 113.02 L66.00 113.13 L67.00 113.24 L68.00 113.34 L69.00 113.45 L70.00 113.55 L71.00 113.65 L72.00 113.75 L73.00 113.86 L74.00 113.97 L75.00 114.08 L76.00 114.20 L77.00 114.33 L78.00 114.46 L79.00 114.60 L80.00 114.75 L81.00 114.90 L82.00 115.06 L83.00 115.22 L84.00 115.39 L85.00 115.56 L86.00 115.74 L87.00 115.92 L88.00 116.10 L89.00 116.28 L90.00 116.47 L91.00 116.66 L92.00 116.85 L93.00 117.04 L94.00 117.24 L95.00 117.43 L96.00 117.63 L97.00 117.82 L98.00 118.01 L99.00 118.21 L100.00 118.40 L101.00 118.59 L102.00 118.78 L103.00 118.97 L104.00 119.15 L105.00 119.34 L106.00 119.51 L107.00 119.69 L108.00 119.86 L109.00 120.03 L110.00 120.19 L111.00 120.35 L112.00 120.50 L113.00 120.65 L114.00 120.79 L115.00 120.92 L116.00 121.05 L117.00 121.18 L118.00 121.30 L119.00 121.43 L120.00 121.54 L121.00 121.66 L122.00 121.77 L123.00 121.89 L124.00 122.00 L125.00 122.11 L126.00 122.22 L127.00 122.33 L128.00 122.43 L129.00 122.52 L130.00 122.61 L131.00 122.69 L132.00 122.75 L133.00 122.80 L134.00 122.84 L135.00 122.85 L136.00 122.86 L137.00 122.85 L138.00 122.83 L139.00 122.79 L140.00 122.74 L141.00 122.67 L142.00 122.59 L143.00 122.50 L144.00 122.40 L145.00 122.28 L146.00 122.15 L147.00 122.01 L148.00 121.86 L149.00 121.70 L150.00 121.54 L151.00 121.36 L152.00 121.18 L153.00 120.99 L154.00 120.80 L155.00 120.60 L156.00 120.40 L157.00 120.19 L158.00 119.99 L159.00 119.77 L160.00 119.55 L161.00 119.32 L162.00 119.08 L163.00 118.84 L164.00 118.58 L165.00 118.31 L166.00 118.03 L167.00 117.74 L168.00 117.43 L169.00 117.10 L170.00 116.76 L171.00 116.40 L172.00 116.03 L173.00 115.64 L174.00 115.23 L175.00 114.82 L176.00 114.39 L177.00 113.95 L178.00 113.50 L179.00 113.04 L180.00 112.57 L181.00 112.09 L182.00 111.60 L183.00 111.11 L184.00 110.60 L185.00 110.09 L186.00 109.57 L187.00 109.04 L188.00 108.50 L189.00 107.95 L190.00 107.39 L191.00 106.82 L192.00 106.23 L193.00 105.64 L194.00 105.02 L195.00 104.40 L196.00 103.76 L197.00 103.11 L198.00 102.44 L199.00 101.76 L200.00 101.07 L201.00 100.37 L202.00 99.66 L203.00 98.94 L204.00 98.21 L205.00 97.47 L206.00 96.72 L207.00 95.96 L208.00 95.20 L209.00 94.43 L210.00 93.66 L211.00 92.88 L212.00 92.09 L213.00 91.30 L214.00 90.50 L215.00 89.70 L216.00 88.90 L217.00 88.09 L218.00 87.27 L219.00 86.45 L220.00 85.63 L221.00 84.80 L222.00 83.97 L223.00 83.13 L224.00 82.28 L225.00 81.42 L226.00 80.54 L227.00 79.63 L228.00 78.71 L229.00 77.76 L230.00 76.77 L231.00 75.75 L232.00 74.70 L233.00 73.60 L234.00 72.46 L235.00 71.28 L236.00 70.07 L237.00 68.82 L238.00 67.55 L239.00 66.26 L240.00 64.95 L241.00 63.62 L242.00 62.30 L243.00 60.96 L244.00 59.63 L245.00 58.31 L246.00 57.00 L247.00 55.70 L248.00 54.42 L249.00 53.16 L250.00 51.92 L251.00 50.69 L252.00 49.49 L253.00 48.31 L254.00 47.15 L255.00 46.01 L256.00 44.90 L257.00 43.82 L258.00 42.77 L259.00 41.77 L260.00 40.83 L261.00 39.97 L262.00 39.20 L263.00 38.52 L264.00 37.93 L265.00 37.43 L266.00 36.99 L267.00 36.62 L268.00 36.30 L269.00 36.03 L270.00 35.81 L271.00 35.67 L272.00 35.60 L273.00 35.63 L274.00 35.77 L275.00 36.04 L276.00 36.46 L277.00 37.06 L278.00 37.86 L279.00 38.87 L280.00 40.06 L281.00 41.41 L282.00 42.91 L283.00 44.52 L284.00 46.28 L285.00 48.21 L286.00 50.37 L287.00 52.79 L288.00 55.44 L289.00 58.24 L290.00 61.15 L290.25 61.89 L290.50 62.63 L290.75 63.36 L291.00 64.10 L291.25 64.84 L291.50 65.57 L291.75 66.31 L292.00 67.06 L292.25 67.81 L292.50 68.58 L292.75 69.36 L293.00 70.15 L293.25 70.95 L293.50 71.77 L293.75 72.59 L294.00 73.42 L294.25 74.26 L294.50 75.10 L294.75 75.94 L295.00 76.78 L295.25 77.62 L295.50 78.46 L295.75 79.29 L296.00 80.12 L296.25 80.94 L296.50 81.74 L296.75 82.54 L297.00 83.32 L297.25 84.09 L297.50 84.84 L297.75 85.57 L298.00 86.28 L298.25 86.97 L298.50 87.63 L298.75 88.26 L299.00 88.85 L299.25 89.41 L299.50 89.92 L299.75 90.39 L300.00 90.80 L300.25 91.16 L300.50 91.46 L300.75 91.70 L301.00 91.87 L301.25 91.98 L301.50 92.00 L301.75 91.95 L302.00 91.83 L302.25 91.65 L302.50 91.40 L302.75 91.10 L303.00 90.75 L303.25 90.35 L303.50 89.92 L303.75 89.44 L304.00 88.93 L304.25 88.40 L304.50 87.84 L304.75 87.27 L305.00 86.69 L305.25 86.09 L305.50 85.50 L305.75 84.91 L306.00 84.32 L306.25 83.73 L306.50 83.15 L306.75 82.57 L307.00 82.00 L307.25 81.43 L307.50 80.87 L307.75 80.32 L308.00 79.78 L308.25 79.24 L308.50 78.72 L308.75 78.20 L309.00 77.69 L309.25 77.20 L309.50 76.71 L309.75 76.24 L310.00 75.79 L310.25 75.35 L310.50 74.93 L310.75 74.53 L311.00 74.15 L311.25 73.80 L311.50 73.47 L311.75 73.17 L312.00 72.90 L312.25 72.66 L312.50 72.46 L312.75 72.29 L313.00 72.15 L313.25 72.06 L313.50 72.01 L313.75 72.00 L314.00 72.03 L314.25 72.11 L314.50 72.23 L314.75 72.39 L315.00 72.59 L315.25 72.82 L315.50 73.10 L315.75 73.40 L316.00 73.75 L316.25 74.12 L316.50 74.52 L316.75 74.95 L317.00 75.41 L317.25 75.89 L317.50 76.40 L317.75 76.93 L318.00 77.48 L318.25 78.05 L318.50 78.64 L318.75 79.24 L319.00 79.86 L319.25 80.48 L319.50 81.11 L319.75 81.74 L320.00 82.37 L320.25 83.00 L320.50 83.62 L320.75 84.22 L321.00 84.81 L321.25 85.38 L321.50 85.93 L321.75 86.46 L322.00 86.95 L322.25 87.41 L322.50 87.84 L322.75 88.22 L323.00 88.57 L323.25 88.86 L323.50 89.11 L323.75 89.30 L324.00 89.44 L324.25 89.51 L324.50 89.52 L324.75 89.46 L325.00 89.33 L325.25 89.13 L325.50 88.88 L325.75 88.56 L326.00 88.18 L326.25 87.76 L326.50 87.28 L326.75 86.75 L327.00 86.17 L327.25 85.56 L327.50 84.90 L327.75 84.21 L328.00 83.48 L328.25 82.73 L328.50 81.97 L328.75 81.19 L329.00 80.41 L329.25 79.63 L329.50 78.86 L329.75 78.11 L330.00 77.38 L330.25 76.68 L330.50 76.02 L330.75 75.40 L331.00 74.82 L331.25 74.29 L331.50 73.81 L331.75 73.39 L332.00 73.04 L332.25 72.76 L332.50 72.55 L332.75 72.42 L333.00 72.37 L333.25 72.42 L333.50 72.55 L333.75 72.77 L334.00 73.08 L334.25 73.48 L334.50 73.95 L334.75 74.51 L335.00 75.14 L335.25 75.85 L335.50 76.63 L335.75 77.48 L336.00 78.40 L336.25 79.38 L336.50 80.43 L336.75 81.54 L337.00 82.70 L337.25 83.92 L337.50 85.20 L337.75 86.53 L338.00 87.90 L338.25 89.33 L338.50 90.80 L338.75 92.31 L339.00 93.86 L339.25 95.44 L339.50 97.05 L339.75 98.66 L340.00 100.27 L340.25 101.89 L340.50 103.48 L340.75 105.06 L341.00 106.61 L341.25 108.12 L341.50 109.58 L341.75 110.98 L342.00 112.29 L342.25 113.49 L342.50 114.56 L342.75 115.47 L343.00 116.19 L343.25 116.70 L343.50 116.98 L343.75 117.03 L344.00 116.87 L344.25 116.52 L344.50 116.03 L344.75 115.41 L345.00 114.69 L345.25 113.90 L345.50 113.07 L345.75 112.23 L346.00 111.40 L346.25 110.59 L346.50 109.83 L346.75 109.11 L347.00 108.46 L347.25 107.88 L347.50 107.39 L347.75 107.01 L348.00 106.74 L348.25 106.60 L348.50 106.60 L348.75 106.75 L349.00 107.05 L349.25 107.50 L349.50 108.08 L349.75 108.78 L350.00 109.61 L350.25 110.55 L350.50 111.61 L350.75 112.76 L351.00 114.01 L351.25 115.34 L351.50 116.74 L351.75 118.19 L352.00 119.67 L352.25 121.15 L352.50 122.64 L352.75 124.09 L353.00 125.50 L353.25 126.85 L353.50 128.12 L353.75 129.29 L354.00 130.36 L354.25 131.29 L354.50 132.09 L354.75 132.72 L355.00 133.18 L355.25 133.44 L355.50 133.50 L355.75 133.35 L356.00 133.02 L356.25 132.54 L356.50 131.94 L356.75 131.24 L357.00 130.48 L357.25 129.68 L357.50 128.88 L357.75 128.09 L358.00 127.35 L358.25 126.68 L358.50 126.10 L358.75 125.64 L359.00 125.33 L359.25 125.19 L359.50 125.23 L359.75 125.47 L360.00 125.90 L360.25 126.53 L360.50 127.35 L360.75 128.37 L361.00 129.58 L361.25 130.99 L361.50 132.60 L361.75 134.38 L362.00 136.28 L362.25 138.28 L362.50 140.33 L362.75 142.39 L363.00 144.43 L363.25 146.43 L363.50 148.38 L363.75 150.27 L364.00 152.10 L364.25 153.84 L364.50 155.52 L364.75 157.14 L365.00 158.73 L365.25 160.32 L365.50 161.88 L365.75 163.27 L366.00 164.31 L366.25 164.87 L366.50 164.92 L366.75 164.59 L367.00 163.97 L367.25 163.19 L367.50 162.34 L367.75 161.55 L368.00 160.90 L368.25 160.41 L368.50 160.10 L368.75 159.99 L369.00 160.10 L369.25 160.44 L369.50 161.01 L369.75 161.77 L370.00 162.73 L370.25 163.85 L370.50 165.13 L370.75 166.54 L371.00 168.08 L371.25 169.74 L371.50 171.50 L371.75 173.36 L372.00 175.30 L372.25 177.31 L372.50 179.32 L372.75 181.27 L373.00 183.09 L373.25 184.71 L373.50 186.06 L373.75 187.12 L374.00 187.89 L374.25 188.35 L374.50 188.50 L374.75 188.35 L375.00 187.97 L375.25 187.44 L375.50 186.85 L375.75 186.29 L376.00 185.84 L376.25 185.58 L376.50 185.59 L376.75 185.93 L377.00 186.68 L377.25 187.91 L377.50 189.68 L377.75 191.94 L378.00 194.48 L378.25 197.09 L378.50 199.55 L378.75 201.80 L379.00 203.94 L379.25 206.12 L379.50 208.47 L379.75 210.99 L380.00 213.53 L380.25 215.95 L380.50 218.08 L380.75 219.84 L381.00 221.20 L381.25 222.08 L381.50 222.47 L381.75 222.45 L382.00 222.17 L382.25 221.77 L382.50 221.40 L382.75 221.22 L383.00 221.36 L383.25 221.97 L383.50 223.11 L383.75 224.68 L384.00 226.52 L384.25 228.50 L384.50 230.50 L384.75 232.48 L385.00 234.42 L385.25 236.26 L385.50 237.99 L385.75 239.56 L386.00 240.95" fill="none" stroke="#1c1cff" stroke-width="1.65" stroke-dasharray="1.25 0.7"/>
</g>
<g clip-path="url(#cb)">
<path d="M45.30 256.30 L45.79 256.22 L46.29 256.14 L46.79 256.06 L47.28 255.98 L47.78 255.91 L48.27 255.83 L48.77 255.76 L49.27 255.69 L49.76 255.63 L50.26 255.57 L50.76 255.51 L51.25 255.45 L51.75 255.39 L52.25 255.34 L52.75 255.28 L53.25 255.23 L53.75 255.18 L54.25 255.13 L54.75 255.08 L55.25 255.03 L55.74 254.99 L56.24 254.94 L56.74 254.90 L57.24 254.85 L57.74 254.81 L58.24 254.76 L58.74 254.72 L59.24 254.68 L59.74 254.63 L60.24 254.59 L60.74 254.55 L61.24 254.51 L61.74 254.47 L62.24 254.43 L62.74 254.40 L63.24 254.36 L63.74 254.33 L64.24 254.30 L64.74 254.27 L65.24 254.24 L65.74 254.21 L66.24 254.19 L66.74 254.17 L67.24 254.14 L67.74 254.12 L68.25 254.10 L68.75 254.08 L69.25 254.06 L69.75 254.05 L70.25 254.03 L70.75 254.01 L71.25 253.99 L71.75 253.98 L72.25 253.96 L72.75 253.95 L73.26 253.93 L73.76 253.92 L74.26 253.90 L74.76 253.89 L75.26 253.87 L75.76 253.86 L76.26 253.85 L76.76 253.83 L77.27 253.82 L77.77 253.81 L78.27 253.79 L78.77 253.78 L79.27 253.77 L79.77 253.75 L80.27 253.74 L80.77 253.72 L81.28 253.71 L81.78 253.69 L82.28 253.68 L82.78 253.66 L83.28 253.65 L83.78 253.64 L84.28 253.62 L84.78 253.61 L85.29 253.60 L85.79 253.58 L86.29 253.57 L86.79 253.56 L87.29 253.55 L87.79 253.54 L88.29 253.53 L88.79 253.53 L89.30 253.52 L89.80 253.51 L90.30 253.51 L90.80 253.50 L91.30 253.50 L91.80 253.50 L92.30 253.50 L92.80 253.50 L93.31 253.50 L93.81 253.50 L94.31 253.51 L94.81 253.51 L95.31 253.51 L95.81 253.52 L96.31 253.52 L96.82 253.53 L97.32 253.53 L97.82 253.54 L98.32 253.54 L98.82 253.55 L99.32 253.56 L99.82 253.56 L100.32 253.57 L100.83 253.58 L101.33 253.59 L101.83 253.59 L102.33 253.60 L102.83 253.61 L103.33 253.62 L103.83 253.63 L104.34 253.64 L104.84 253.65 L105.34 253.65 L105.84 253.66 L106.34 253.67 L106.84 253.68 L107.34 253.69 L107.84 253.70 L108.35 253.71 L108.85 253.72 L109.35 253.73 L109.85 253.74 L110.35 253.75 L110.85 253.76 L111.35 253.77 L111.85 253.78 L112.36 253.80 L112.86 253.81 L113.36 253.82 L113.86 253.84 L114.36 253.85 L114.86 253.87 L115.36 253.88 L115.86 253.89 L116.37 253.91 L116.87 253.92 L117.37 253.93 L117.87 253.95 L118.37 253.96 L118.87 253.97 L119.37 253.99 L119.87 254.00 L120.37 254.01 L120.88 254.02 L121.38 254.03 L121.88 254.04 L122.38 254.05 L122.88 254.06 L123.38 254.07 L123.88 254.08 L124.39 254.09 L124.89 254.10 L125.39 254.10 L125.89 254.11 L126.39 254.12 L126.89 254.13 L127.39 254.14 L127.89 254.15 L128.40 254.16 L128.90 254.17 L129.40 254.18 L129.90 254.19 L130.40 254.20 L130.90 254.21 L131.40 254.22 L131.90 254.23 L132.41 254.24 L132.91 254.25 L133.41 254.26 L133.91 254.27 L134.41 254.28 L134.91 254.30 L135.41 254.31 L135.91 254.33 L136.41 254.34 L136.92 254.36 L137.42 254.38 L137.92 254.39 L138.42 254.41 L138.92 254.43 L139.42 254.45 L139.92 254.47 L140.42 254.49 L140.92 254.51 L141.42 254.53 L141.93 254.56 L142.43 254.58 L142.93 254.60 L143.43 254.62 L143.93 254.65 L144.43 254.67 L144.93 254.69 L145.43 254.71 L145.93 254.73 L146.43 254.76 L146.93 254.78 L147.44 254.80 L147.94 254.82 L148.44 254.84 L148.94 254.86 L149.44 254.88 L149.94 254.90 L150.44 254.92 L150.94 254.93 L151.44 254.95 L151.94 254.97 L152.45 254.99 L152.95 255.00 L153.45 255.02 L153.95 255.04 L154.45 255.05 L154.95 255.07 L155.45 255.08 L155.95 255.10 L156.45 255.12 L156.96 255.13 L157.46 255.15 L157.96 255.16 L158.46 255.18 L158.96 255.20 L159.46 255.21 L159.96 255.23 L160.46 255.24 L160.96 255.26 L161.47 255.28 L161.97 255.29 L162.47 255.31 L162.97 255.33 L163.47 255.35 L163.97 255.36 L164.47 255.38 L164.97 255.40 L165.47 255.42 L165.97 255.44 L166.48 255.45 L166.98 255.47 L167.48 255.49 L167.98 255.51 L168.48 255.53 L168.98 255.55 L169.48 255.57 L169.98 255.59 L170.48 255.61 L170.98 255.63 L171.49 255.65 L171.99 255.67 L172.49 255.69 L172.99 255.71 L173.49 255.73 L173.99 255.75 L174.49 255.77 L174.99 255.79 L175.49 255.81 L175.99 255.83 L176.50 255.85 L177.00 255.87 L177.50 255.89 L178.00 255.91 L178.50 255.94 L179.00 255.96 L179.50 255.98 L180.00 256.00 L180.50 256.02 L181.00 256.04 L181.50 256.07 L182.01 256.09 L182.51 256.11 L183.01 256.13 L183.51 256.16 L184.01 256.18 L184.51 256.20 L185.01 256.23 L185.51 256.25 L186.01 256.27 L186.51 256.30 L187.01 256.32 L187.51 256.34 L188.02 256.37 L188.52 256.39 L189.02 256.42 L189.52 256.44 L190.02 256.46 L190.52 256.49 L191.02 256.51 L191.52 256.54 L192.02 256.56 L192.52 256.58 L193.02 256.61 L193.52 256.63 L194.02 256.65 L194.53 256.68 L195.03 256.70 L195.53 256.72 L196.03 256.75 L196.53 256.77 L197.03 256.80 L197.53 256.82 L198.03 256.84 L198.53 256.87 L199.03 256.89 L199.53 256.91 L200.03 256.94 L200.54 256.96 L201.04 256.99 L201.54 257.01 L202.04 257.03 L202.54 257.06 L203.04 257.08 L203.54 257.11 L204.04 257.13 L204.54 257.15 L205.04 257.18 L205.54 257.20 L206.04 257.22 L206.54 257.25 L207.05 257.27 L207.55 257.29 L208.05 257.31 L208.55 257.34 L209.05 257.36 L209.55 257.38 L210.05 257.40 L210.55 257.42 L211.05 257.44 L211.55 257.47 L212.05 257.49 L212.56 257.51 L213.06 257.53 L213.56 257.55 L214.06 257.57 L214.56 257.59 L215.06 257.61 L215.56 257.63 L216.06 257.64 L216.56 257.66 L217.06 257.68 L217.57 257.70 L218.07 257.72 L218.57 257.74 L219.07 257.76 L219.57 257.78 L220.07 257.80 L220.57 257.82 L221.07 257.84 L221.57 257.86 L222.07 257.88 L222.58 257.90 L223.08 257.92 L223.58 257.94 L224.08 257.96 L224.58 257.98 L225.08 258.00 L225.58 258.02 L226.08 258.05 L226.58 258.07 L227.08 258.09 L227.58 258.11 L228.09 258.13 L228.59 258.15 L229.09 258.17 L229.59 258.19 L230.09 258.21 L230.59 258.24 L231.09 258.26 L231.59 258.28 L232.09 258.30 L232.59 258.32 L233.10 258.34 L233.60 258.37 L234.10 258.39 L234.60 258.41 L235.10 258.44 L235.60 258.46 L236.10 258.49 L236.60 258.51 L237.10 258.54 L237.60 258.56 L238.10 258.59 L238.60 258.62 L239.10 258.65 L239.60 258.68 L240.10 258.71 L240.60 258.74 L241.10 258.77 L241.60 258.80 L242.10 258.84 L242.61 258.87 L243.11 258.91 L243.61 258.95 L244.11 258.98 L244.61 259.02 L245.11 259.06 L245.60 259.11 L246.10 259.15 L246.60 259.19 L247.10 259.23 L247.60 259.28 L248.10 259.32 L248.60 259.37 L249.10 259.42 L249.60 259.46 L250.10 259.51 L250.60 259.56 L251.10 259.61 L251.60 259.65 L252.10 259.70 L252.60 259.75 L253.10 259.81 L253.59 259.86 L254.09 259.92 L254.59 259.98 L255.09 260.04 L255.59 260.10 L256.08 260.17 L256.58 260.24 L257.07 260.31 L257.57 260.39 L258.06 260.48 L258.55 260.58 L259.04 260.68 L259.53 260.78 L260.02 260.90 L260.51 261.01 L261.00 261.13 L261.49 261.24 L261.97 261.36 L262.46 261.48 L262.95 261.59 L263.44 261.70 L263.93 261.81 L264.42 261.93 L264.90 262.04 L265.39 262.16 L265.88 262.28 L266.37 262.39 L266.85 262.51 L267.34 262.63 L267.83 262.76 L268.31 262.88 L268.80 263.00" fill="none" stroke="#ff2020" stroke-width="1.35" stroke-dasharray="11.8 9.4" stroke-linejoin="round"/>
<path d="M275.60 269.50 L275.92 269.92 L276.24 270.34 L276.54 270.77 L276.84 271.20 L277.12 271.64 L277.40 272.08 L277.67 272.52 L277.93 272.97 L278.17 273.42 L278.41 273.88 L278.63 274.34 L278.85 274.80 L279.06 275.27 L279.27 275.75 L279.48 276.23 L279.68 276.71 L279.88 277.21 L280.06 277.70 L280.22 278.20 L280.37 278.70 L280.48 279.20 L280.57 279.70 L280.64 280.20 L280.69 280.70 L280.75 281.21 L280.80 281.72 L280.85 282.22 L280.90 282.73 L280.94 283.25 L280.99 283.76 L281.02 284.28 L281.06 284.79 L281.09 285.31 L281.12 285.83 L281.14 286.36 L281.16 286.88 L281.18 287.41 L281.19 287.94 L281.20 288.47 L281.20 289.00 M285.30 266.90 L285.67 266.46 L286.05 266.04 L286.45 265.65 L286.86 265.29 L287.28 264.97 L287.71 264.70 L288.16 264.47 L288.61 264.30 L289.09 264.15 L289.60 264.02 L290.13 263.89 L290.67 263.79 L291.21 263.70 L291.74 263.64 L292.26 263.60 L292.75 263.62 L293.24 263.73 L293.71 263.93 L294.18 264.21 L294.65 264.54 L295.10 264.90 M300.60 265.60 L300.72 265.11 L300.88 264.65 L301.06 264.21 L301.28 263.81 L301.51 263.43 L301.77 263.07 L302.09 262.70 L302.46 262.35 L302.85 262.05 L303.26 261.85 L303.67 261.73 L304.13 261.64 L304.61 261.56 L305.09 261.51 L305.55 261.50 L306.00 261.56 L306.44 261.72 L306.87 261.93 L307.30 262.20 M312.60 270.80 L312.75 271.31 L312.89 271.82 L313.04 272.32 L313.18 272.83 L313.31 273.34 L313.43 273.85 L313.55 274.37 L313.64 274.88 L313.73 275.39 L313.79 275.91 L313.84 276.43 L313.89 276.94 L313.94 277.46 L313.98 277.98 L314.02 278.50 L314.07 279.02 L314.11 279.54 L314.15 280.06 L314.18 280.58 L314.22 281.10 L314.25 281.62 L314.29 282.14 L314.32 282.67 L314.34 283.19 L314.37 283.71 L314.39 284.24 L314.42 284.76 L314.43 285.29 L314.45 285.82 L314.47 286.35 L314.48 286.88 L314.49 287.41 L314.49 287.94 L314.50 288.47 L314.50 289.00 M320.00 289.00 L320.03 288.49 L320.05 287.99 L320.08 287.48 L320.11 286.97 L320.14 286.46 L320.18 285.96 L320.21 285.45 L320.24 284.94 L320.28 284.44 L320.32 283.93 L320.35 283.42 L320.39 282.92 L320.43 282.41 L320.47 281.91 L320.51 281.40 L320.55 280.89 L320.59 280.39 L320.64 279.88 L320.68 279.38 L320.72 278.87 L320.77 278.36 L320.81 277.86 L320.86 277.35 L320.90 276.85 L320.95 276.34 L320.99 275.83 L321.04 275.32 L321.09 274.81 L321.14 274.31 L321.18 273.80 L321.24 273.29 L321.29 272.78 L321.34 272.27 L321.40 271.77 L321.46 271.26 L321.52 270.76 L321.59 270.26 L321.66 269.76 L321.73 269.26 L321.81 268.76 L321.89 268.26 L321.97 267.77 L322.06 267.27 L322.16 266.78 L322.27 266.28 L322.39 265.78 L322.52 265.28 L322.66 264.77 L322.81 264.28 L322.97 263.78 L323.14 263.29 L323.32 262.81 L323.51 262.33 L323.70 261.86 L323.90 261.41 L324.12 260.96 L324.34 260.52 L324.57 260.09 L324.84 259.65 L325.15 259.22 L325.49 258.81 L325.85 258.43 L326.23 258.12 L326.63 257.87 L327.10 257.66 L327.60 257.50 M334.10 265.80 L336.00 263.60 M337.00 264.20 L337.32 263.48 L337.66 262.88 L338.00 262.40 L338.35 262.03 L338.71 261.78 L339.08 261.64 L339.45 261.60 L339.89 261.74 L340.38 262.03 L340.85 262.43 L341.22 262.86 L341.42 263.27 L341.54 263.67 L341.65 264.11 L341.75 264.58 L341.84 265.08 L341.92 265.59 L341.99 266.12 L342.05 266.67 L342.10 267.22 L342.15 267.77 L342.19 268.32 L342.23 268.87 L342.27 269.41 L342.30 269.93 L342.32 270.44 L342.35 270.96 L342.38 271.47 L342.41 271.98 L342.44 272.50 L342.46 273.01 L342.49 273.52 L342.51 274.04 L342.54 274.55 L342.56 275.07 L342.58 275.58 L342.60 276.09 L342.63 276.61 L342.65 277.12 L342.67 277.64 L342.69 278.15 L342.71 278.67 L342.72 279.18 L342.74 279.70 L342.76 280.21 L342.77 280.73 L342.79 281.24 L342.80 281.76 L342.81 282.28 L342.83 282.79 L342.84 283.31 L342.85 283.83 L342.86 284.34 L342.87 284.86 L342.87 285.38 L342.88 285.89 L342.89 286.41 L342.89 286.93 L342.90 287.45 L342.90 287.96 L342.90 288.48 L342.90 289.00 M353.80 265.40 L353.88 264.42 L354.00 263.54 L354.15 262.76 L354.34 262.08 L354.54 261.50 L354.77 261.01 L355.02 260.61 L355.29 260.31 L355.57 260.09 L355.86 259.95 L356.16 259.90 L356.52 259.97 L356.99 260.20 L357.51 260.54 L358.01 260.94 L358.42 261.36 L358.70 261.76 L358.93 262.17 L359.16 262.63 L359.37 263.12 L359.54 263.64 L359.68 264.20 L359.77 264.78 L359.80 265.40 M364.00 262.30 L365.00 264.60 M368.60 263.20 L371.90 261.70 M374.20 264.20 L376.40 263.00 M315.30 289.00 L315.31 288.48 L315.33 287.96 L315.35 287.45 L315.36 286.93 L315.38 286.41 L315.40 285.90 L315.43 285.38 L315.45 284.86 L315.47 284.34 L315.50 283.83 L315.52 283.31 L315.55 282.79 L315.57 282.28 L315.60 281.76 L315.63 281.24 L315.66 280.73 L315.69 280.21 L315.72 279.69 L315.75 279.18 L315.78 278.66 L315.82 278.14 L315.86 277.63 L315.89 277.11 L315.94 276.60 L315.98 276.08 L316.02 275.56 L316.06 275.05 L316.11 274.53 L316.15 274.02 L316.20 273.50 M334.30 270.50 L334.50 289.00 M348.70 270.00 L348.80 289.00 M352.90 289.00 L352.91 288.49 L352.91 287.97 L352.92 287.46 L352.93 286.95 L352.94 286.44 L352.95 285.92 L352.96 285.41 L352.97 284.90 L352.99 284.39 L353.00 283.87 L353.02 283.36 L353.03 282.85 L353.05 282.34 L353.06 281.82 L353.08 281.31 L353.10 280.80 L353.12 280.29 L353.13 279.77 L353.15 279.26 L353.17 278.75 L353.19 278.24 L353.21 277.72 L353.23 277.21 L353.25 276.70 L353.28 276.19 L353.30 275.68 L353.33 275.16 L353.36 274.65 L353.38 274.14 L353.41 273.63 L353.45 273.12 L353.48 272.60 L353.51 272.09 L353.54 271.58 L353.58 271.07 L353.61 270.56 L353.65 270.05 L353.69 269.53 L353.72 269.02 L353.76 268.51 L353.80 268.00 M360.30 268.00 L360.34 268.51 L360.38 269.02 L360.41 269.53 L360.45 270.05 L360.49 270.56 L360.52 271.07 L360.56 271.58 L360.59 272.09 L360.62 272.60 L360.65 273.12 L360.69 273.63 L360.72 274.14 L360.74 274.65 L360.77 275.16 L360.80 275.68 L360.82 276.19 L360.85 276.70 L360.87 277.21 L360.89 277.72 L360.91 278.24 L360.93 278.75 L360.95 279.26 L360.97 279.77 L360.98 280.29 L361.00 280.80 L361.02 281.31 L361.04 281.82 L361.05 282.34 L361.07 282.85 L361.08 283.36 L361.10 283.87 L361.11 284.39 L361.13 284.90 L361.14 285.41 L361.15 285.92 L361.16 286.44 L361.17 286.95 L361.18 287.46 L361.19 287.97 L361.19 288.49 L361.20 289.00 M366.70 271.50 L366.80 289.00 M374.80 272.00 L374.90 289.00" fill="none" stroke="#ff2020" stroke-width="1.35" stroke-linejoin="round"/>
<path d="M382.20 274.80 L382.40 289.00" fill="none" stroke="#ff2020" stroke-width="1.90" stroke-linejoin="round"/>
<path d="M45.30 262.50 L45.78 262.35 L46.26 262.21 L46.74 262.06 L47.22 261.92 L47.71 261.79 L48.19 261.66 L48.68 261.53 L49.16 261.40 L49.65 261.28 L50.14 261.17 L50.62 261.06 L51.11 260.95 L51.60 260.84 L52.09 260.74 L52.59 260.64 L53.08 260.54 L53.57 260.45 L54.06 260.35 L54.56 260.26 L55.05 260.17 L55.55 260.08 L56.04 259.99 L56.53 259.91 L57.03 259.82 L57.52 259.73 L58.02 259.64 L58.51 259.56 L59.01 259.47 L59.50 259.39 L60.00 259.31 L60.49 259.23 L60.99 259.16 L61.48 259.09 L61.98 259.02 L62.48 258.96 L62.98 258.90 L63.47 258.85 L63.97 258.80 L64.47 258.75 L64.97 258.70 L65.47 258.65 L65.97 258.60 L66.47 258.55 L66.97 258.51 L67.47 258.47 L67.97 258.43 L68.47 258.39 L68.97 258.35 L69.47 258.32 L69.97 258.29 L70.47 258.26 L70.98 258.24 L71.48 258.22 L71.98 258.20 L72.48 258.19 L72.98 258.17 L73.48 258.16 L73.98 258.14 L74.48 258.13 L74.98 258.12 L75.49 258.10 L75.99 258.09 L76.49 258.08 L76.99 258.07 L77.49 258.06 L77.99 258.05 L78.50 258.04 L79.00 258.03 L79.50 258.03 L80.00 258.02 L80.50 258.01 L81.00 258.01 L81.51 258.00 L82.01 258.00 L82.51 258.00 L83.01 258.00 L83.51 258.00 L84.01 258.00 L84.52 258.00 L85.02 258.01 L85.52 258.01 L86.02 258.01 L86.52 258.01 L87.02 258.02 L87.52 258.02 L88.03 258.03 L88.53 258.03 L89.03 258.04 L89.53 258.05 L90.03 258.05 L90.53 258.06 L91.04 258.07 L91.54 258.08 L92.04 258.08 L92.54 258.09 L93.04 258.10 L93.54 258.11 L94.05 258.12 L94.55 258.12 L95.05 258.13 L95.55 258.14 L96.05 258.15 L96.55 258.16 L97.05 258.17 L97.56 258.18 L98.06 258.18 L98.56 258.19 L99.06 258.20 L99.56 258.21 L100.06 258.22 L100.57 258.23 L101.07 258.24 L101.57 258.25 L102.07 258.26 L102.57 258.27 L103.07 258.28 L103.57 258.29 L104.08 258.30 L104.58 258.31 L105.08 258.32 L105.58 258.33 L106.08 258.35 L106.58 258.36 L107.08 258.37 L107.59 258.38 L108.09 258.40 L108.59 258.41 L109.09 258.42 L109.59 258.43 L110.09 258.45 L110.59 258.46 L111.10 258.47 L111.60 258.49 L112.10 258.50 L112.60 258.51 L113.10 258.52 L113.60 258.54 L114.10 258.55 L114.61 258.56 L115.11 258.58 L115.61 258.59 L116.11 258.60 L116.61 258.62 L117.11 258.63 L117.61 258.64 L118.12 258.65 L118.62 258.67 L119.12 258.68 L119.62 258.69 L120.12 258.70 L120.62 258.72 L121.12 258.73 L121.63 258.74 L122.13 258.75 L122.63 258.77 L123.13 258.78 L123.63 258.79 L124.13 258.80 L124.63 258.82 L125.14 258.83 L125.64 258.84 L126.14 258.86 L126.64 258.87 L127.14 258.88 L127.64 258.90 L128.14 258.91 L128.65 258.93 L129.15 258.94 L129.65 258.96 L130.15 258.97 L130.65 258.99 L131.15 259.00 L131.65 259.02 L132.16 259.04 L132.66 259.05 L133.16 259.07 L133.66 259.09 L134.16 259.11 L134.66 259.12 L135.16 259.14 L135.66 259.16 L136.16 259.19 L136.67 259.21 L137.17 259.23 L137.67 259.25 L138.17 259.28 L138.67 259.30 L139.17 259.32 L139.67 259.35 L140.17 259.38 L140.67 259.40 L141.17 259.43 L141.68 259.45 L142.18 259.48 L142.68 259.51 L143.18 259.54 L143.68 259.56 L144.18 259.59 L144.68 259.62 L145.18 259.65 L145.68 259.68 L146.18 259.70 L146.68 259.73 L147.18 259.76 L147.69 259.79 L148.19 259.82 L148.69 259.85 L149.19 259.87 L149.69 259.90 L150.19 259.93 L150.69 259.96 L151.19 259.98 L151.69 260.01 L152.19 260.04 L152.69 260.06 L153.20 260.09 L153.70 260.12 L154.20 260.15 L154.70 260.17 L155.20 260.20 L155.70 260.23 L156.20 260.26 L156.70 260.29 L157.20 260.31 L157.70 260.34 L158.20 260.37 L158.70 260.40 L159.20 260.43 L159.71 260.46 L160.21 260.49 L160.71 260.51 L161.21 260.54 L161.71 260.57 L162.21 260.60 L162.71 260.63 L163.21 260.66 L163.71 260.68 L164.21 260.71 L164.71 260.74 L165.21 260.77 L165.72 260.79 L166.22 260.82 L166.72 260.85 L167.22 260.88 L167.72 260.90 L168.22 260.93 L168.72 260.95 L169.22 260.98 L169.72 261.01 L170.22 261.03 L170.72 261.06 L171.23 261.08 L171.73 261.11 L172.23 261.14 L172.73 261.16 L173.23 261.19 L173.73 261.22 L174.23 261.24 L174.73 261.27 L175.23 261.29 L175.73 261.32 L176.23 261.35 L176.74 261.37 L177.24 261.40 L177.74 261.42 L178.24 261.45 L178.74 261.47 L179.24 261.50 L179.74 261.52 L180.24 261.55 L180.74 261.57 L181.24 261.59 L181.75 261.62 L182.25 261.64 L182.75 261.66 L183.25 261.68 L183.75 261.70 L184.25 261.72 L184.75 261.74 L185.25 261.76 L185.76 261.78 L186.26 261.80 L186.76 261.81 L187.26 261.83 L187.76 261.84 L188.26 261.86 L188.76 261.88 L189.26 261.89 L189.77 261.91 L190.27 261.92 L190.77 261.94 L191.27 261.95 L191.77 261.97 L192.27 261.98 L192.77 261.99 L193.27 262.01 L193.78 262.02 L194.28 262.03 L194.78 262.05 L195.28 262.06 L195.78 262.07 L196.28 262.09 L196.79 262.10 L197.29 262.11 L197.79 262.12 L198.29 262.13 L198.79 262.15 L199.29 262.16 L199.79 262.17 L200.30 262.18 L200.80 262.19 L201.30 262.20 L201.80 262.22 L202.30 262.23 L202.80 262.24 L203.30 262.25 L203.81 262.26 L204.31 262.27 L204.81 262.28 L205.31 262.29 L205.81 262.30 L206.31 262.31 L206.81 262.32 L207.32 262.33 L207.82 262.34 L208.32 262.35 L208.82 262.36 L209.32 262.37 L209.82 262.38 L210.33 262.38 L210.83 262.39 L211.33 262.40 L211.83 262.41 L212.33 262.41 L212.83 262.42 L213.34 262.43 L213.84 262.44 L214.34 262.44 L214.84 262.45 L215.34 262.46 L215.84 262.47 L216.35 262.48 L216.85 262.48 L217.35 262.49 L217.85 262.50 L218.35 262.51 L218.85 262.52 L219.35 262.53 L219.86 262.54 L220.36 262.55 L220.86 262.57 L221.36 262.58 L221.86 262.59 L222.36 262.60 L222.86 262.62 L223.36 262.63 L223.87 262.65 L224.37 262.67 L224.87 262.68 L225.37 262.70 L225.87 262.72 L226.37 262.74 L226.87 262.76 L227.38 262.79 L227.88 262.81 L228.38 262.83 L228.88 262.86 L229.38 262.88 L229.88 262.91 L230.38 262.93 L230.88 262.96 L231.39 262.99 L231.89 263.02 L232.39 263.05 L232.89 263.08 L233.39 263.11 L233.89 263.14 L234.39 263.17 L234.89 263.20 L235.39 263.24 L235.89 263.27 L236.39 263.31 L236.89 263.34 L237.39 263.38 L237.89 263.42 L238.39 263.45 L238.89 263.49 L239.39 263.53 L239.89 263.57 L240.39 263.61 L240.89 263.65 L241.39 263.69 L241.89 263.74 L242.39 263.79 L242.89 263.85 L243.38 263.90 L243.88 263.96 L244.38 264.02 L244.88 264.08 L245.38 264.15 L245.87 264.21 L246.37 264.28 L246.87 264.35 L247.37 264.42 L247.86 264.49 L248.36 264.56 L248.86 264.63 L249.35 264.71 L249.85 264.78 L250.35 264.85 L250.84 264.93 L251.34 265.01 L251.83 265.09 L252.33 265.17 L252.82 265.26 L253.31 265.34 L253.81 265.43 L254.30 265.52 L254.80 265.61 L255.29 265.70 L255.78 265.79 L256.28 265.88 L256.77 265.98 L257.26 266.07 L257.76 266.16 L258.25 266.25 L258.74 266.34 L259.24 266.43 L259.73 266.52 L260.22 266.61 L260.72 266.71 L261.21 266.82 L261.69 266.93 L262.18 267.04 L262.67 267.16 L263.16 267.29 L263.65 267.42 L264.13 267.56 L264.61 267.71 L265.09 267.86 L265.56 268.03 L266.02 268.21 L266.48 268.40 L266.93 268.62 L267.38 268.85 L267.83 269.10 L268.27 269.36 L268.69 269.63 L269.11 269.91 L269.50 270.20 L269.89 270.50 L270.27 270.82 L270.64 271.14 L271.01 271.49 L271.36 271.84 L271.71 272.21 L272.05 272.59 L272.37 272.98 L272.69 273.38 L273.00 273.80" fill="none" stroke="#ff8a10" stroke-width="1.30" stroke-dasharray="18.2 17.1" stroke-linejoin="round"/>
<path d="M277.00 279.50 L277.90 289.00 M279.60 289.00 L279.62 288.48 L279.65 287.95 L279.69 287.43 L279.72 286.91 L279.76 286.39 L279.80 285.86 L279.85 285.34 L279.89 284.82 L279.94 284.30 L279.99 283.78 L280.05 283.26 L280.10 282.74 L280.16 282.22 L280.22 281.70 L280.28 281.18 L280.34 280.66 L280.40 280.14 L280.47 279.62 L280.53 279.09 L280.61 278.57 L280.68 278.04 L280.76 277.52 L280.85 277.00 L280.94 276.48 L281.05 275.97 L281.16 275.47 L281.28 274.97 L281.41 274.48 L281.56 274.00 L281.75 273.52 L281.98 273.06 L282.23 272.59 L282.50 272.14 L282.79 271.69 L283.09 271.24 L283.40 270.80 M296.40 270.60 L296.45 271.12 L296.51 271.65 L296.56 272.17 L296.61 272.70 L296.66 273.22 L296.71 273.75 L296.76 274.27 L296.81 274.80 L296.86 275.32 L296.90 275.85 L296.95 276.37 L296.99 276.90 L297.03 277.42 L297.07 277.95 L297.11 278.47 L297.15 279.00 L297.18 279.53 L297.22 280.05 L297.25 280.58 L297.28 281.10 L297.32 281.63 L297.35 282.16 L297.38 282.68 L297.41 283.21 L297.44 283.73 L297.47 284.26 L297.50 284.79 L297.52 285.31 L297.55 285.84 L297.57 286.37 L297.60 286.89 L297.62 287.42 L297.64 287.95 L297.66 288.47 L297.68 289.00 M300.60 270.60 L300.55 271.12 L300.49 271.65 L300.44 272.17 L300.39 272.70 L300.34 273.22 L300.29 273.75 L300.24 274.27 L300.19 274.80 L300.14 275.32 L300.10 275.85 L300.05 276.37 L300.01 276.90 L299.97 277.42 L299.93 277.95 L299.89 278.47 L299.85 279.00 L299.82 279.53 L299.78 280.05 L299.75 280.58 L299.72 281.10 L299.68 281.63 L299.65 282.16 L299.62 282.68 L299.59 283.21 L299.56 283.73 L299.53 284.26 L299.50 284.79 L299.48 285.31 L299.45 285.84 L299.43 286.37 L299.40 286.89 L299.38 287.42 L299.36 287.95 L299.34 288.47 L299.32 289.00 M311.70 270.50 L311.74 271.01 L311.78 271.53 L311.82 272.04 L311.86 272.55 L311.89 273.07 L311.93 273.58 L311.96 274.09 L312.00 274.61 L312.03 275.12 L312.07 275.63 L312.10 276.15 L312.13 276.66 L312.16 277.17 L312.19 277.69 L312.22 278.20 L312.25 278.72 L312.27 279.23 L312.30 279.74 L312.32 280.26 L312.35 280.77 L312.37 281.29 L312.40 281.80 L312.42 282.31 L312.44 282.83 L312.46 283.34 L312.49 283.86 L312.51 284.37 L312.53 284.88 L312.55 285.40 L312.56 285.91 L312.58 286.43 L312.60 286.94 L312.62 287.46 L312.63 287.97 L312.65 288.49 L312.66 289.00 M317.80 270.50 L317.76 271.01 L317.72 271.53 L317.68 272.04 L317.64 272.55 L317.61 273.07 L317.57 273.58 L317.54 274.09 L317.50 274.61 L317.47 275.12 L317.43 275.63 L317.40 276.15 L317.37 276.66 L317.34 277.17 L317.31 277.69 L317.28 278.20 L317.25 278.72 L317.23 279.23 L317.20 279.74 L317.18 280.26 L317.15 280.77 L317.13 281.29 L317.10 281.80 L317.08 282.31 L317.06 282.83 L317.04 283.34 L317.01 283.86 L316.99 284.37 L316.97 284.88 L316.95 285.40 L316.94 285.91 L316.92 286.43 L316.90 286.94 L316.88 287.46 L316.87 287.97 L316.85 288.49 L316.84 289.00 M320.80 270.00 L320.83 270.51 L320.86 271.03 L320.90 271.54 L320.93 272.05 L320.96 272.57 L320.99 273.08 L321.01 273.59 L321.04 274.11 L321.07 274.62 L321.10 275.13 L321.12 275.65 L321.15 276.16 L321.18 276.67 L321.20 277.19 L321.22 277.70 L321.25 278.21 L321.27 278.73 L321.29 279.24 L321.31 279.75 L321.33 280.27 L321.35 280.78 L321.37 281.29 L321.39 281.81 L321.41 282.32 L321.42 282.83 L321.44 283.35 L321.46 283.86 L321.48 284.38 L321.49 284.89 L321.51 285.40 L321.52 285.92 L321.54 286.43 L321.55 286.94 L321.56 287.46 L321.58 287.97 L321.59 288.49 L321.60 289.00 M332.70 269.00 L332.73 269.51 L332.76 270.02 L332.79 270.54 L332.82 271.05 L332.85 271.56 L332.88 272.07 L332.90 272.59 L332.93 273.10 L332.96 273.61 L332.98 274.13 L333.01 274.64 L333.03 275.15 L333.06 275.66 L333.08 276.18 L333.11 276.69 L333.13 277.20 L333.15 277.71 L333.17 278.23 L333.19 278.74 L333.21 279.25 L333.23 279.77 L333.25 280.28 L333.27 280.79 L333.28 281.30 L333.30 281.82 L333.32 282.33 L333.34 282.84 L333.35 283.36 L333.37 283.87 L333.38 284.38 L333.40 284.89 L333.41 285.41 L333.43 285.92 L333.44 286.43 L333.45 286.95 L333.47 287.46 L333.48 287.97 L333.49 288.49 L333.50 289.00 M336.00 269.00 L335.97 269.51 L335.94 270.02 L335.91 270.54 L335.88 271.05 L335.85 271.56 L335.82 272.07 L335.80 272.59 L335.77 273.10 L335.74 273.61 L335.72 274.13 L335.69 274.64 L335.67 275.15 L335.64 275.66 L335.62 276.18 L335.59 276.69 L335.57 277.20 L335.55 277.71 L335.53 278.23 L335.51 278.74 L335.49 279.25 L335.47 279.77 L335.45 280.28 L335.43 280.79 L335.42 281.30 L335.40 281.82 L335.38 282.33 L335.36 282.84 L335.35 283.36 L335.33 283.87 L335.32 284.38 L335.30 284.89 L335.29 285.41 L335.27 285.92 L335.26 286.43 L335.25 286.95 L335.23 287.46 L335.22 287.97 L335.21 288.49 L335.20 289.00 M341.20 273.00 L341.22 273.52 L341.25 274.03 L341.27 274.55 L341.29 275.06 L341.31 275.58 L341.33 276.10 L341.35 276.61 L341.37 277.13 L341.39 277.64 L341.41 278.16 L341.43 278.68 L341.44 279.19 L341.46 279.71 L341.48 280.22 L341.49 280.74 L341.51 281.26 L341.52 281.77 L341.54 282.29 L341.55 282.80 L341.56 283.32 L341.58 283.84 L341.59 284.35 L341.60 284.87 L341.61 285.39 L341.62 285.90 L341.63 286.42 L341.64 286.93 L341.65 287.45 L341.66 287.97 L341.67 288.48 L341.68 289.00 M347.40 267.80 L347.42 268.32 L347.45 268.83 L347.47 269.35 L347.49 269.87 L347.51 270.38 L347.53 270.90 L347.56 271.42 L347.58 271.94 L347.60 272.45 L347.62 272.97 L347.64 273.49 L347.66 274.00 L347.68 274.52 L347.69 275.04 L347.71 275.55 L347.73 276.07 L347.75 276.59 L347.76 277.10 L347.78 277.62 L347.79 278.14 L347.81 278.66 L347.82 279.17 L347.84 279.69 L347.85 280.21 L347.86 280.72 L347.88 281.24 L347.89 281.76 L347.90 282.28 L347.92 282.79 L347.93 283.31 L347.94 283.83 L347.95 284.34 L347.96 284.86 L347.97 285.38 L347.99 285.90 L348.00 286.41 L348.01 286.93 L348.01 287.45 L348.02 287.97 L348.03 288.48 L348.04 289.00 M350.10 267.80 L350.08 268.32 L350.05 268.83 L350.03 269.35 L350.01 269.87 L349.99 270.38 L349.97 270.90 L349.94 271.42 L349.92 271.94 L349.90 272.45 L349.88 272.97 L349.86 273.49 L349.84 274.00 L349.82 274.52 L349.81 275.04 L349.79 275.55 L349.77 276.07 L349.75 276.59 L349.74 277.10 L349.72 277.62 L349.71 278.14 L349.69 278.66 L349.68 279.17 L349.66 279.69 L349.65 280.21 L349.64 280.72 L349.62 281.24 L349.61 281.76 L349.60 282.28 L349.58 282.79 L349.57 283.31 L349.56 283.83 L349.55 284.34 L349.54 284.86 L349.53 285.38 L349.51 285.90 L349.50 286.41 L349.49 286.93 L349.49 287.45 L349.48 287.97 L349.47 288.48 L349.46 289.00 M353.60 271.00 L353.61 271.51 L353.63 272.03 L353.64 272.54 L353.65 273.06 L353.67 273.57 L353.68 274.09 L353.69 274.60 L353.70 275.11 L353.71 275.63 L353.73 276.14 L353.74 276.66 L353.75 277.17 L353.76 277.69 L353.77 278.20 L353.78 278.71 L353.79 279.23 L353.80 279.74 L353.80 280.26 L353.81 280.77 L353.82 281.29 L353.83 281.80 L353.84 282.31 L353.84 282.83 L353.85 283.34 L353.86 283.86 L353.87 284.37 L353.87 284.89 L353.88 285.40 L353.89 285.91 L353.89 286.43 L353.90 286.94 L353.90 287.46 L353.91 287.97 L353.92 288.49 L353.92 289.00 M359.90 267.00 L359.93 267.51 L359.96 268.02 L359.98 268.53 L360.01 269.05 L360.04 269.56 L360.06 270.07 L360.09 270.58 L360.11 271.09 L360.14 271.60 L360.16 272.11 L360.18 272.63 L360.21 273.14 L360.23 273.65 L360.25 274.16 L360.27 274.67 L360.29 275.18 L360.32 275.69 L360.33 276.21 L360.35 276.72 L360.37 277.23 L360.39 277.74 L360.41 278.25 L360.43 278.76 L360.44 279.28 L360.46 279.79 L360.48 280.30 L360.49 280.81 L360.51 281.32 L360.52 281.83 L360.54 282.35 L360.55 282.86 L360.57 283.37 L360.58 283.88 L360.60 284.39 L360.61 284.90 L360.62 285.42 L360.63 285.93 L360.65 286.44 L360.66 286.95 L360.67 287.46 L360.68 287.98 L360.69 288.49 L360.70 289.00 M365.20 268.80 L365.22 269.32 L365.25 269.84 L365.27 270.35 L365.30 270.87 L365.32 271.39 L365.34 271.91 L365.36 272.42 L365.39 272.94 L365.41 273.46 L365.43 273.98 L365.45 274.50 L365.47 275.01 L365.49 275.53 L365.51 276.05 L365.52 276.57 L365.54 277.08 L365.56 277.60 L365.58 278.12 L365.59 278.64 L365.61 279.16 L365.62 279.67 L365.64 280.19 L365.65 280.71 L365.67 281.23 L365.68 281.75 L365.69 282.26 L365.71 282.78 L365.72 283.30 L365.73 283.82 L365.75 284.34 L365.76 284.85 L365.77 285.37 L365.78 285.89 L365.79 286.41 L365.80 286.93 L365.81 287.45 L365.82 287.96 L365.83 288.48 L365.84 289.00 M368.40 268.80 L368.38 269.32 L368.35 269.84 L368.33 270.35 L368.30 270.87 L368.28 271.39 L368.26 271.91 L368.24 272.42 L368.21 272.94 L368.19 273.46 L368.17 273.98 L368.15 274.50 L368.13 275.01 L368.11 275.53 L368.09 276.05 L368.08 276.57 L368.06 277.08 L368.04 277.60 L368.02 278.12 L368.01 278.64 L367.99 279.16 L367.98 279.67 L367.96 280.19 L367.95 280.71 L367.93 281.23 L367.92 281.75 L367.91 282.26 L367.89 282.78 L367.88 283.30 L367.87 283.82 L367.85 284.34 L367.84 284.85 L367.83 285.37 L367.82 285.89 L367.81 286.41 L367.80 286.93 L367.79 287.45 L367.78 287.96 L367.77 288.48 L367.76 289.00 M373.00 270.00 L373.03 270.51 L373.05 271.03 L373.08 271.54 L373.10 272.05 L373.12 272.57 L373.15 273.08 L373.17 273.59 L373.19 274.11 L373.22 274.62 L373.24 275.13 L373.26 275.65 L373.28 276.16 L373.30 276.67 L373.32 277.19 L373.34 277.70 L373.36 278.21 L373.37 278.73 L373.39 279.24 L373.41 279.75 L373.42 280.27 L373.44 280.78 L373.46 281.29 L373.47 281.81 L373.49 282.32 L373.50 282.84 L373.51 283.35 L373.53 283.86 L373.54 284.38 L373.55 284.89 L373.57 285.40 L373.58 285.92 L373.59 286.43 L373.60 286.94 L373.61 287.46 L373.62 287.97 L373.63 288.49 L373.64 289.00 M376.80 270.00 L376.77 270.51 L376.75 271.03 L376.72 271.54 L376.70 272.05 L376.68 272.57 L376.65 273.08 L376.63 273.59 L376.61 274.11 L376.58 274.62 L376.56 275.13 L376.54 275.65 L376.52 276.16 L376.50 276.67 L376.48 277.19 L376.46 277.70 L376.44 278.21 L376.43 278.73 L376.41 279.24 L376.39 279.75 L376.38 280.27 L376.36 280.78 L376.34 281.29 L376.33 281.81 L376.31 282.32 L376.30 282.84 L376.29 283.35 L376.27 283.86 L376.26 284.38 L376.25 284.89 L376.23 285.40 L376.22 285.92 L376.21 286.43 L376.20 286.94 L376.19 287.46 L376.18 287.97 L376.17 288.49 L376.16 289.00 M381.60 289.00 L381.60 288.48 L381.60 287.96 L381.60 287.45 L381.61 286.93 L381.61 286.42 L381.62 285.90 L381.62 285.39 L381.63 284.87 L381.64 284.36 L381.65 283.85 L381.66 283.34 L381.67 282.83 L381.68 282.31 L381.69 281.81 L381.71 281.30 L381.72 280.79 L381.74 280.28 L381.75 279.77 L381.77 279.26 L381.79 278.76 L381.81 278.25 L381.82 277.75 L381.85 277.24 L381.87 276.74 L381.89 276.23 L381.92 275.73 L381.96 275.23 L382.02 274.72 L382.10 274.22 L382.20 273.72 L382.31 273.22 L382.43 272.72 L382.56 272.22 L382.70 271.72 L382.84 271.22 L382.98 270.73 L383.13 270.24 L383.28 269.75 L383.43 269.26 L383.57 268.77 L383.72 268.28 L383.88 267.80 L384.05 267.32 L384.22 266.84 L384.40 266.36 L384.59 265.89 L384.79 265.41 L384.99 264.94 L385.19 264.47 L385.40 264.00" fill="none" stroke="#ff8a10" stroke-width="1.30" stroke-linejoin="round"/>
<path d="M45.30 279.50 L45.42 280.02 L45.53 280.54 L45.64 281.07 L45.75 281.59 L45.85 282.11 L45.96 282.64 L46.05 283.16 L46.15 283.69 L46.24 284.21 L46.32 284.74 L46.41 285.27 L46.49 285.79 L46.57 286.32 L46.65 286.85 L46.73 287.38 L46.80 287.91 L46.87 288.44 L46.94 288.97 L47.00 289.50 L47.00 289.50 L47.06 289.00 L47.12 288.50 L47.19 288.00 L47.25 287.50 L47.32 287.00 L47.40 286.51 L47.47 286.01 L47.55 285.51 L47.63 285.02 L47.71 284.52 L47.80 284.03 L47.88 283.53 L47.96 283.03 L48.05 282.53 L48.14 282.03 L48.23 281.53 L48.34 281.04 L48.45 280.56 L48.58 280.08 L48.73 279.61 L48.91 279.14 L49.11 278.68 L49.34 278.22 L49.57 277.77 L49.82 277.33 L50.06 276.89 L50.32 276.46 L50.58 276.03 L50.86 275.61 L51.15 275.19 L51.45 274.78 L51.75 274.39 L52.07 274.00 L52.39 273.61 L52.73 273.24 L53.08 272.87 L53.44 272.51 L53.80 272.17 L54.18 271.85 L54.57 271.53 L54.97 271.21 L55.38 270.91 L55.80 270.63 L56.23 270.36 L56.66 270.12 L57.11 269.90 L57.56 269.70 L58.03 269.51 L58.50 269.33 L58.98 269.16 L59.46 268.99 L59.93 268.82 L60.41 268.66 L60.88 268.49 L61.36 268.32 L61.83 268.16 L62.31 267.99 L62.79 267.84 L63.27 267.68 L63.75 267.54 L64.23 267.40 L64.72 267.27 L65.20 267.15 L65.69 267.03 L66.18 266.92 L66.67 266.81 L67.16 266.71 L67.66 266.60 L68.15 266.51 L68.65 266.41 L69.14 266.32 L69.64 266.23 L70.14 266.15 L70.63 266.07 L71.13 266.00 L71.63 265.92 L72.12 265.85 L72.62 265.79 L73.12 265.72 L73.62 265.66 L74.12 265.60 L74.62 265.55 L75.12 265.49 L75.62 265.44 L76.12 265.39 L76.62 265.34 L77.12 265.29 L77.62 265.24 L78.12 265.19 L78.62 265.15 L79.12 265.11 L79.63 265.06 L80.13 265.02 L80.63 264.98 L81.13 264.94 L81.63 264.91 L82.13 264.87 L82.63 264.84 L83.14 264.80 L83.64 264.77 L84.14 264.74 L84.64 264.71 L85.14 264.68 L85.65 264.64 L86.15 264.61 L86.65 264.58 L87.15 264.55 L87.66 264.53 L88.16 264.50 L88.66 264.48 L89.16 264.46 L89.66 264.44 L90.17 264.42 L90.67 264.41 L91.17 264.40 L91.68 264.39 L92.18 264.38 L92.68 264.37 L93.18 264.36 L93.69 264.35 L94.19 264.35 L94.69 264.34 L95.19 264.33 L95.70 264.33 L96.20 264.32 L96.70 264.32 L97.21 264.31 L97.71 264.31 L98.21 264.30 L98.72 264.30 L99.22 264.30 L99.72 264.30 L100.22 264.30 L100.73 264.30 L101.23 264.30 L101.73 264.31 L102.24 264.31 L102.74 264.32 L103.24 264.33 L103.74 264.34 L104.25 264.35 L104.75 264.36 L105.25 264.37 L105.76 264.38 L106.26 264.40 L106.76 264.41 L107.26 264.42 L107.77 264.44 L108.27 264.45 L108.77 264.47 L109.27 264.48 L109.78 264.49 L110.28 264.51 L110.78 264.52 L111.28 264.54 L111.79 264.56 L112.29 264.57 L112.79 264.59 L113.30 264.61 L113.80 264.63 L114.30 264.65 L114.80 264.67 L115.31 264.70 L115.81 264.72 L116.31 264.74 L116.81 264.77 L117.31 264.79 L117.82 264.82 L118.32 264.85 L118.82 264.87 L119.32 264.90 L119.82 264.93 L120.33 264.96 L120.83 264.99 L121.33 265.03 L121.83 265.06 L122.34 265.10 L122.84 265.13 L123.34 265.17 L123.84 265.21 L124.34 265.25 L124.84 265.30 L125.34 265.34 L125.85 265.39 L126.35 265.43 L126.85 265.48 L127.35 265.53 L127.85 265.58 L128.34 265.64 L128.84 265.70 L129.34 265.76 L129.84 265.83 L130.34 265.90 L130.83 265.97 L131.33 266.05 L131.83 266.13 L132.32 266.21 L132.82 266.29 L133.32 266.38 L133.81 266.46 L134.31 266.55 L134.81 266.63 L135.30 266.72 L135.80 266.80 L136.29 266.88 L136.79 266.97 L137.29 267.05 L137.78 267.13 L138.28 267.21 L138.78 267.28 L139.27 267.36 L139.77 267.44 L140.27 267.53 L140.76 267.61 L141.26 267.69 L141.76 267.77 L142.25 267.85 L142.75 267.93 L143.24 268.01 L143.74 268.09 L144.24 268.18 L144.73 268.26 L145.23 268.34 L145.72 268.42 L146.22 268.51 L146.72 268.59 L147.21 268.68 L147.71 268.76 L148.20 268.84 L148.70 268.93 L149.19 269.02 L149.69 269.10 L150.19 269.19 L150.68 269.27 L151.18 269.36 L151.67 269.45 L152.17 269.53 L152.66 269.62 L153.16 269.71 L153.65 269.80 L154.15 269.88 L154.64 269.97 L155.14 270.06 L155.63 270.15 L156.13 270.24 L156.62 270.33 L157.12 270.42 L157.61 270.52 L158.11 270.61 L158.60 270.70 L159.09 270.80 L159.59 270.90 L160.08 270.99 L160.57 271.09 L161.07 271.19 L161.56 271.29 L162.05 271.40 L162.54 271.50 L163.04 271.60 L163.53 271.70 L164.02 271.81 L164.51 271.91 L165.01 272.02 L165.50 272.13 L165.99 272.25 L166.48 272.36 L166.97 272.48 L167.46 272.60 L167.94 272.72 L168.43 272.85 L168.91 272.98 L169.40 273.11 L169.88 273.25 L170.36 273.39 L170.84 273.54 L171.32 273.69 L171.80 273.84 L172.28 274.00 L172.76 274.17 L173.24 274.33 L173.71 274.51 L174.18 274.68 L174.65 274.86 L175.11 275.04 L175.58 275.23 L176.04 275.43 L176.51 275.62 L176.97 275.83 L177.44 276.04 L177.89 276.25 L178.35 276.47 L178.80 276.70 L179.24 276.94 L179.68 277.18 L180.11 277.43 L180.54 277.68 L180.96 277.95 L181.38 278.24 L181.79 278.54 L182.20 278.84 L182.59 279.16 L182.97 279.50 L183.34 279.84 L183.68 280.19 L184.01 280.56 L184.33 280.95 L184.63 281.36 L184.93 281.77 L185.21 282.19 L185.48 282.62 L185.75 283.04 L186.01 283.47 L186.27 283.91 L186.51 284.35 L186.75 284.80 L186.97 285.25 L187.18 285.71 L187.37 286.17 L187.55 286.63 L187.73 287.10 L187.90 287.57 L188.06 288.05 L188.21 288.53 L188.35 289.02 L188.48 289.51 L188.60 290.00 L189.60 290.00 L189.70 289.50 L189.81 289.00 L189.94 288.51 L190.08 288.03 L190.23 287.55 L190.39 287.08 L190.56 286.61 L190.74 286.15 L190.93 285.69 L191.14 285.24 L191.38 284.79 L191.63 284.35 L191.89 283.92 L192.17 283.50 L192.45 283.09 L192.75 282.68 L193.07 282.29 L193.40 281.91 L193.75 281.55 L194.11 281.20 L194.48 280.88 L194.88 280.57 L195.29 280.28 L195.71 279.99 L196.13 279.72 L196.55 279.44 L196.98 279.17 L197.41 278.91 L197.85 278.66 L198.29 278.43 L198.74 278.21 L199.20 278.02 L199.66 277.84 L200.13 277.67 L200.60 277.50 L201.08 277.35 L201.56 277.20 L202.05 277.06 L202.53 276.92 L203.02 276.79 L203.51 276.66 L204.00 276.53 L204.48 276.40 L204.97 276.28 L205.45 276.16 L205.94 276.05 L206.43 275.94 L206.92 275.83 L207.41 275.72 L207.90 275.62 L208.39 275.52 L208.89 275.42 L209.38 275.32 L209.87 275.22 L210.36 275.12 L210.86 275.03 L211.35 274.93 L211.84 274.84 L212.34 274.75 L212.83 274.66 L213.32 274.57 L213.82 274.48 L214.31 274.39 L214.80 274.30 L215.30 274.22 L215.79 274.13 L216.29 274.05 L216.78 273.96 L217.28 273.88 L217.77 273.79 L218.27 273.71 L218.76 273.62 L219.26 273.54 L219.75 273.45 L220.24 273.37 L220.74 273.28 L221.23 273.20 L221.73 273.11 L222.22 273.03 L222.72 272.94 L223.21 272.86 L223.71 272.78 L224.20 272.69 L224.70 272.61 L225.19 272.53 L225.69 272.44 L226.18 272.36 L226.68 272.28 L227.17 272.19 L227.67 272.11 L228.16 272.03 L228.65 271.94 L229.15 271.86 L229.64 271.78 L230.14 271.69 L230.63 271.61 L231.13 271.53 L231.62 271.45 L232.12 271.36 L232.61 271.28 L233.11 271.20 L233.60 271.12 L234.10 271.04 L234.59 270.95 L235.09 270.87 L235.58 270.79 L236.08 270.71 L236.57 270.63 L237.07 270.55 L237.56 270.47 L238.06 270.38 L238.56 270.30 L239.05 270.22 L239.55 270.14 L240.04 270.05 L240.53 269.97 L241.03 269.89 L241.52 269.81 L242.02 269.72 L242.51 269.64 L243.01 269.55 L243.50 269.47 L244.00 269.38 L244.49 269.30 L244.99 269.21 L245.48 269.13 L245.97 269.04 L246.47 268.95 L246.96 268.87 L247.46 268.78 L247.95 268.69 L248.45 268.60 L248.94 268.52 L249.43 268.43 L249.93 268.34 L250.42 268.25 L250.92 268.16 L251.41 268.08 L251.90 267.99 L252.40 267.90 L252.89 267.81 L253.38 267.72 L253.88 267.63 L254.37 267.54 L254.87 267.45 L255.36 267.36 L255.85 267.27 L256.35 267.18 L256.84 267.09 L257.33 267.00 L257.83 266.91 L258.32 266.81 L258.81 266.72 L259.31 266.63 L259.80 266.54 L260.29 266.45 L260.79 266.35 L261.28 266.26 L261.77 266.16 L262.26 266.07 L262.76 265.98 L263.25 265.88 L263.74 265.79 L264.23 265.69 L264.73 265.60 L265.22 265.50 L265.71 265.40 L266.21 265.31 L266.70 265.21 L267.19 265.12 L267.68 265.02 L268.18 264.93 L268.67 264.83 L269.16 264.74 L269.65 264.64 L270.15 264.55 L270.64 264.45 L271.13 264.36 L271.63 264.27 L272.12 264.17 L272.61 264.08 L273.10 263.99 L273.60 263.89 L274.09 263.79 L274.58 263.70 L275.08 263.60 L275.57 263.51 L276.06 263.41 L276.55 263.32 L277.05 263.23 L277.54 263.14 L278.03 263.05 L278.53 262.96 L279.02 262.88 L279.52 262.80 L280.01 262.72 L280.51 262.64 L281.00 262.55 L281.50 262.47 L282.00 262.39 L282.49 262.31 L282.99 262.23 L283.49 262.16 L283.98 262.09 L284.48 262.02 L284.98 261.96 L285.48 261.91 L285.98 261.86 L286.47 261.82 L286.97 261.78 L287.47 261.75 L287.98 261.72 L288.48 261.68 L288.98 261.66 L289.48 261.63 L289.98 261.62 L290.49 261.60 L290.98 261.60 L291.49 261.61 L291.99 261.65 L292.49 261.72 L292.99 261.80 L293.49 261.89 L293.98 261.99 L294.46 262.09 L294.94 262.21 L295.41 262.37 L295.87 262.56 L296.33 262.77 L296.79 263.00 L297.24 263.23 L297.70 263.46 L298.15 263.68 L298.60 263.90 L299.05 264.13 L299.49 264.38 L299.93 264.64 L300.37 264.89 L300.82 265.13 L301.26 265.37 L301.71 265.58 L302.17 265.76 L302.64 265.91 L303.12 266.05 L303.60 266.19 L304.10 266.32 L304.60 266.42 L305.09 266.48 L305.59 266.50 L306.09 266.48 L306.59 266.42 L307.09 266.35 L307.59 266.27 L308.08 266.19 L308.56 266.08 L309.04 265.94 L309.51 265.77 L309.98 265.59 L310.45 265.39 L310.91 265.19 L311.38 264.98 L311.84 264.78 L312.31 264.60 L312.77 264.40 L313.24 264.19 L313.70 263.96 L314.16 263.73 L314.61 263.51 L315.08 263.29 L315.54 263.10 L316.01 262.93 L316.48 262.80 L316.96 262.71 L317.45 262.64 L317.95 262.59 L318.46 262.54 L318.97 262.51 L319.46 262.50 L319.96 262.55 L320.46 262.70 L320.94 262.90 L321.38 263.13 L321.76 263.37 L322.11 263.68 L322.44 264.03 L322.75 264.43 L323.05 264.87 L323.34 265.32 L323.62 265.77 L323.89 266.22 L324.17 266.65 L324.44 267.07 L324.69 267.51 L324.93 267.96 L325.16 268.41 L325.39 268.86 L325.62 269.31 L325.86 269.76 L326.11 270.19 L326.38 270.60 L326.67 271.00 L327.00 271.44 L327.36 271.91 L327.74 272.36 L328.12 272.72 L328.48 272.95 L328.80 272.99 L329.11 272.81 L329.41 272.45 L329.70 271.98 L329.98 271.44 L330.26 270.90 L330.53 270.41 L330.80 269.98 L331.05 269.54 L331.29 269.09 L331.53 268.63 L331.76 268.17 L331.99 267.72 L332.23 267.27 L332.48 266.84 L332.75 266.42 L333.03 266.03 L333.34 265.66 L333.67 265.29 L334.04 264.92 L334.43 264.55 L334.83 264.22 L335.26 263.93 L335.69 263.71 L336.13 263.56 L336.60 263.44 L337.08 263.33 L337.58 263.23 L338.10 263.15 L338.61 263.08 L339.12 263.03 L339.62 263.00 L340.11 263.01 L340.59 263.08 L341.07 263.23 L341.55 263.42 L342.02 263.65 L342.48 263.90 L342.92 264.15 L343.35 264.40 L343.76 264.74 L344.14 265.15 L344.52 265.54 L344.91 265.85 L345.32 266.00 L345.79 265.96 L346.29 265.84 L346.79 265.67 L347.24 265.48 L347.63 265.21 L347.98 264.84 L348.33 264.44 L348.68 264.06 L349.07 263.76 L349.49 263.47 L349.94 263.18 L350.40 262.92 L350.87 262.71 L351.33 262.61 L351.80 262.62 L352.28 262.74 L352.77 262.93 L353.24 263.16 L353.69 263.42 L354.11 263.67 L354.48 264.05 L354.82 264.51 L355.15 264.98 L355.49 265.37 L355.86 265.58 L356.28 265.56 L356.76 265.39 L357.24 265.14 L357.67 264.89 L358.04 264.58 L358.39 264.21 L358.72 263.80 L359.05 263.39 L359.39 263.00 L359.75 262.67 L360.15 262.41 L360.60 262.15 L361.08 261.91 L361.57 261.70 L362.05 261.55 L362.50 261.50 L362.92 261.59 L363.33 261.82 L363.72 262.16 L364.11 262.56 L364.49 262.98 L364.86 263.37 L365.23 263.73 L365.60 264.18 L365.96 264.65 L366.31 265.07 L366.66 265.38 L367.00 265.50 L367.32 265.38 L367.62 265.06 L367.92 264.60 L368.21 264.08 L368.52 263.57 L368.86 263.14 L369.23 262.80 L369.64 262.46 L370.08 262.12 L370.53 261.82 L370.98 261.61 L371.41 261.50 L371.82 261.56 L372.22 261.77 L372.61 262.10 L372.99 262.50 L373.38 262.92 L373.77 263.30 L374.17 263.64 L374.58 264.02 L375.01 264.41 L375.42 264.75 L375.80 264.96 L376.14 264.98 L376.44 264.77 L376.70 264.39 L376.96 263.90 L377.21 263.35 L377.47 262.80 L377.76 262.30 L378.08 261.91 L378.45 261.52 L378.86 261.13 L379.28 260.78 L379.70 260.56 L380.10 260.51 L380.49 260.72 L380.87 261.13 L381.24 261.61 L381.62 262.07 L381.99 262.40 L382.37 262.49 L382.75 262.32 L383.12 261.96 L383.50 261.53 L383.87 261.12 L384.26 260.78 L384.64 260.46 L385.02 260.14 L385.41 259.82 L385.80 259.50" fill="none" stroke="#ff10ff" stroke-width="1.25" stroke-dasharray="3 1.3 1 1.3" stroke-linejoin="round"/>
<path d="M45.30 261.90 L45.78 261.77 L46.27 261.63 L46.75 261.50 L47.24 261.37 L47.72 261.25 L48.21 261.13 L48.69 261.01 L49.18 260.89 L49.67 260.78 L50.16 260.66 L50.65 260.56 L51.14 260.45 L51.63 260.34 L52.12 260.24 L52.61 260.14 L53.10 260.04 L53.59 259.94 L54.09 259.85 L54.58 259.76 L55.07 259.67 L55.56 259.58 L56.06 259.49 L56.55 259.41 L57.05 259.32 L57.54 259.24 L58.04 259.16 L58.53 259.09 L59.03 259.01 L59.52 258.93 L60.02 258.86 L60.51 258.79 L61.01 258.71 L61.51 258.64 L62.00 258.57 L62.50 258.50 L63.00 258.43 L63.49 258.36 L63.99 258.29 L64.48 258.22 L64.98 258.14 L65.48 258.07 L65.97 257.99 L66.47 257.92 L66.97 257.85 L67.46 257.77 L67.96 257.70 L68.45 257.63 L68.95 257.56 L69.45 257.49 L69.95 257.43 L70.44 257.37 L70.94 257.31 L71.44 257.26 L71.94 257.21 L72.43 257.16 L72.93 257.11 L73.43 257.07 L73.93 257.02 L74.43 256.98 L74.93 256.93 L75.43 256.89 L75.93 256.85 L76.43 256.81 L76.93 256.77 L77.43 256.73 L77.93 256.70 L78.43 256.66 L78.93 256.63 L79.43 256.59 L79.93 256.56 L80.43 256.53 L80.93 256.50 L81.43 256.48 L81.93 256.45 L82.44 256.43 L82.94 256.41 L83.44 256.39 L83.94 256.37 L84.44 256.35 L84.94 256.33 L85.44 256.32 L85.94 256.30 L86.44 256.28 L86.94 256.26 L87.44 256.25 L87.94 256.23 L88.45 256.21 L88.95 256.20 L89.45 256.18 L89.95 256.17 L90.45 256.16 L90.95 256.15 L91.45 256.14 L91.96 256.13 L92.46 256.12 L92.96 256.11 L93.46 256.11 L93.96 256.10 L94.46 256.10 L94.96 256.10 L95.46 256.10 L95.97 256.10 L96.47 256.10 L96.97 256.10 L97.47 256.10 L97.97 256.10 L98.47 256.11 L98.97 256.11 L99.47 256.11 L99.98 256.11 L100.48 256.12 L100.98 256.12 L101.48 256.12 L101.98 256.13 L102.48 256.13 L102.98 256.13 L103.48 256.14 L103.99 256.14 L104.49 256.14 L104.99 256.15 L105.49 256.15 L105.99 256.16 L106.49 256.16 L106.99 256.17 L107.50 256.17 L108.00 256.18 L108.50 256.18 L109.00 256.19 L109.50 256.19 L110.00 256.20 L110.50 256.21 L111.00 256.21 L111.50 256.22 L112.01 256.23 L112.51 256.24 L113.01 256.25 L113.51 256.27 L114.01 256.28 L114.51 256.29 L115.01 256.31 L115.51 256.32 L116.02 256.34 L116.52 256.36 L117.02 256.37 L117.52 256.39 L118.02 256.41 L118.52 256.43 L119.02 256.45 L119.52 256.47 L120.02 256.49 L120.52 256.51 L121.03 256.53 L121.53 256.55 L122.03 256.57 L122.53 256.59 L123.03 256.62 L123.53 256.64 L124.03 256.66 L124.53 256.68 L125.03 256.70 L125.53 256.72 L126.03 256.75 L126.53 256.77 L127.03 256.79 L127.54 256.82 L128.04 256.85 L128.54 256.87 L129.04 256.90 L129.54 256.93 L130.04 256.96 L130.54 256.99 L131.04 257.02 L131.54 257.05 L132.04 257.08 L132.54 257.11 L133.04 257.14 L133.54 257.17 L134.04 257.21 L134.54 257.24 L135.04 257.27 L135.54 257.30 L136.04 257.34 L136.54 257.37 L137.04 257.40 L137.54 257.44 L138.04 257.47 L138.54 257.50 L139.04 257.54 L139.54 257.58 L140.04 257.61 L140.54 257.65 L141.04 257.69 L141.54 257.73 L142.04 257.76 L142.54 257.80 L143.04 257.84 L143.54 257.88 L144.04 257.92 L144.54 257.96 L145.04 258.00 L145.54 258.04 L146.04 258.07 L146.54 258.11 L147.04 258.15 L147.54 258.19 L148.04 258.22 L148.54 258.26 L149.04 258.30 L149.54 258.33 L150.04 258.37 L150.54 258.40 L151.04 258.44 L151.54 258.47 L152.04 258.50 L152.54 258.54 L153.04 258.57 L153.54 258.61 L154.04 258.64 L154.54 258.67 L155.04 258.71 L155.54 258.74 L156.04 258.77 L156.54 258.81 L157.04 258.84 L157.54 258.87 L158.04 258.90 L158.54 258.94 L159.04 258.97 L159.54 259.00 L160.04 259.04 L160.54 259.07 L161.04 259.10 L161.54 259.14 L162.04 259.17 L162.55 259.20 L163.05 259.23 L163.55 259.27 L164.05 259.30 L164.55 259.33 L165.05 259.37 L165.55 259.40 L166.05 259.43 L166.55 259.46 L167.05 259.50 L167.55 259.53 L168.05 259.56 L168.55 259.59 L169.05 259.63 L169.55 259.66 L170.05 259.69 L170.55 259.72 L171.05 259.76 L171.55 259.79 L172.05 259.82 L172.55 259.86 L173.05 259.89 L173.55 259.92 L174.05 259.96 L174.55 259.99 L175.05 260.02 L175.55 260.06 L176.05 260.09 L176.55 260.13 L177.05 260.16 L177.55 260.19 L178.05 260.23 L178.55 260.26 L179.05 260.30 L179.55 260.33 L180.05 260.37 L180.55 260.40 L181.05 260.43 L181.55 260.47 L182.05 260.50 L182.55 260.54 L183.05 260.57 L183.55 260.60 L184.05 260.64 L184.55 260.67 L185.05 260.70 L185.55 260.74 L186.05 260.77 L186.55 260.80 L187.05 260.84 L187.55 260.87 L188.05 260.90 L188.55 260.94 L189.06 260.97 L189.56 261.00 L190.06 261.04 L190.56 261.07 L191.06 261.10 L191.56 261.14 L192.06 261.17 L192.56 261.20 L193.06 261.24 L193.56 261.27 L194.06 261.30 L194.56 261.33 L195.06 261.36 L195.56 261.39 L196.06 261.42 L196.56 261.46 L197.06 261.49 L197.56 261.52 L198.06 261.55 L198.56 261.57 L199.06 261.60 L199.56 261.63 L200.06 261.66 L200.56 261.69 L201.06 261.72 L201.56 261.75 L202.06 261.77 L202.56 261.80 L203.06 261.83 L203.57 261.86 L204.07 261.88 L204.57 261.91 L205.07 261.94 L205.57 261.97 L206.07 261.99 L206.57 262.02 L207.07 262.05 L207.57 262.07 L208.07 262.10 L208.57 262.13 L209.07 262.15 L209.57 262.18 L210.07 262.20 L210.57 262.23 L211.07 262.26 L211.58 262.28 L212.08 262.31 L212.58 262.33 L213.08 262.36 L213.58 262.38 L214.08 262.41 L214.58 262.43 L215.08 262.46 L215.58 262.48 L216.08 262.50 L216.58 262.53 L217.08 262.55 L217.58 262.58 L218.08 262.60 L218.58 262.63 L219.09 262.65 L219.59 262.68 L220.09 262.70 L220.59 262.73 L221.09 262.75 L221.59 262.78 L222.09 262.80 L222.59 262.83 L223.09 262.85 L223.59 262.88 L224.09 262.90 L224.59 262.93 L225.09 262.95 L225.59 262.98 L226.10 263.00 L226.60 263.03 L227.10 263.06 L227.60 263.09 L228.10 263.11 L228.60 263.14 L229.10 263.17 L229.60 263.21 L230.10 263.24 L230.60 263.27 L231.10 263.31 L231.60 263.35 L232.10 263.38 L232.60 263.42 L233.10 263.46 L233.60 263.50 L234.10 263.54 L234.60 263.59 L235.10 263.63 L235.60 263.67 L236.10 263.72 L236.59 263.77 L237.09 263.81 L237.59 263.86 L238.09 263.91 L238.59 263.96 L239.09 264.01 L239.59 264.06 L240.09 264.12 L240.58 264.17 L241.08 264.23 L241.58 264.29 L242.08 264.35 L242.58 264.42 L243.07 264.48 L243.57 264.55 L244.06 264.62 L244.56 264.70 L245.05 264.78 L245.55 264.86 L246.04 264.95 L246.53 265.04 L247.03 265.14 L247.52 265.23 L248.01 265.33 L248.50 265.43 L248.99 265.54 L249.49 265.64 L249.98 265.75 L250.46 265.86 L250.95 265.97 L251.44 266.08 L251.93 266.19 L252.42 266.31 L252.90 266.43 L253.39 266.56 L253.88 266.68 L254.36 266.82 L254.84 266.95 L255.32 267.09 L255.80 267.24 L256.28 267.39 L256.76 267.54 L257.24 267.70 L257.72 267.87 L258.19 268.04 L258.66 268.22 L259.13 268.41 L259.58 268.60 L260.03 268.81 L260.47 269.04 L260.91 269.28 L261.35 269.53 L261.79 269.80 L262.22 270.08 L262.63 270.37 L263.04 270.67 L263.43 270.99 L263.80 271.31 L264.15 271.64 L264.51 271.99 L264.85 272.37 L265.19 272.75 L265.51 273.16 L265.81 273.57 L266.09 273.99 L266.35 274.41 L266.57 274.84 L266.78 275.28 L266.98 275.74 L267.17 276.20 L267.35 276.67 L267.52 277.15 L267.68 277.64 L267.83 278.13 L267.97 278.61 L268.10 279.10 L268.22 279.58 L268.33 280.07 L268.44 280.56 L268.55 281.05 L268.64 281.54 L268.74 282.03 L268.83 282.53 L268.91 283.02 L268.99 283.52 L269.07 284.02 L269.14 284.52 L269.20 285.01 L269.26 285.51 L269.33 286.01 L269.38 286.50 L269.44 287.00 L269.49 287.50 L269.54 288.00 L269.59 288.50 L269.63 289.00 L269.67 289.50 L269.70 290.00 L270.10 290.00 L270.13 289.50 L270.16 288.99 L270.20 288.49 L270.24 287.99 L270.28 287.49 L270.32 286.99 L270.36 286.49 L270.41 285.98 L270.45 285.48 L270.50 284.98 L270.55 284.48 L270.60 283.98 L270.65 283.48 L270.71 282.98 L270.76 282.48 L270.82 281.98 L270.88 281.48 L270.94 280.98 L271.01 280.48 L271.08 279.98 L271.16 279.48 L271.23 278.99 L271.32 278.49 L271.41 278.00 L271.51 277.50 L271.62 277.01 L271.73 276.52 L271.86 276.03 L271.99 275.54 L272.13 275.06 L272.27 274.58 L272.43 274.11 L272.61 273.64 L272.80 273.16 L273.00 272.70 L273.22 272.24 L273.45 271.79 L273.69 271.34 L273.93 270.91 L274.19 270.49 L274.47 270.07 L274.76 269.66 L275.08 269.25 L275.40 268.85 L275.74 268.47 L276.08 268.10 L276.44 267.75 L276.80 267.42 L277.18 267.11 L277.58 266.80 L278.00 266.51 L278.42 266.22 L278.85 265.95 L279.29 265.69 L279.73 265.44 L280.16 265.20 L280.61 264.97 L281.06 264.74 L281.52 264.52 L281.98 264.32 L282.44 264.12 L282.91 263.93 L283.38 263.76 L283.85 263.59 L284.33 263.43 L284.81 263.27 L285.29 263.13 L285.78 262.99 L286.26 262.86 L286.75 262.74 L287.24 262.62 L287.73 262.50 L288.23 262.39 L288.72 262.30 L289.22 262.23 L289.72 262.18 L290.22 262.15 L290.73 262.12 L291.23 262.10 L291.73 262.11 L292.23 262.17 L292.73 262.28 L293.22 262.41 L293.70 262.57 L294.16 262.74 L294.61 262.97 L295.05 263.24 L295.47 263.54 L295.85 263.86 L296.21 264.19 L296.54 264.57 L296.86 264.97 L297.16 265.39 L297.44 265.81 L297.71 266.23 L297.95 266.67 L298.19 267.11 L298.42 267.56 L298.64 268.02 L298.87 268.46 L299.11 268.91 L299.35 269.36 L299.58 269.81 L299.82 270.26 L300.07 270.69 L300.34 271.11 L300.64 271.55 L300.97 272.03 L301.33 272.40 L301.70 272.49 L302.11 272.27 L302.53 271.91 L302.95 271.56 L303.35 271.19 L303.74 270.83 L304.16 270.70 L304.64 270.84 L305.12 271.10 L305.50 271.39 L305.82 271.74 L306.10 272.17 L306.36 272.64 L306.58 273.12 L306.77 273.58 L306.95 274.04 L307.11 274.52 L307.26 275.00 L307.40 275.49 L307.53 275.98 L307.64 276.48 L307.73 276.97 L307.82 277.46 L307.91 277.96 L307.99 278.45 L308.06 278.95 L308.13 279.45 L308.20 279.95 L308.25 280.45 L308.31 280.96 L308.36 281.46 L308.40 281.96 L308.43 282.46 L308.47 282.96 L308.51 283.46 L308.54 283.96 L308.58 284.46 L308.61 284.97 L308.64 285.47 L308.67 285.97 L308.70 286.47 L308.73 286.98 L308.75 287.48 L308.77 287.98 L308.78 288.49 L308.79 288.99 L308.80 289.50 L308.80 290.00 L309.01 291.00 L309.18 291.00 L309.35 291.00 L309.53 291.00 L309.70 282.25 L309.87 278.17 L310.04 275.76 L310.21 274.04 L310.38 272.72 L310.55 271.65 L310.72 270.75 L310.89 269.98 L311.06 269.30 L311.23 268.71 L311.40 268.17 L311.57 267.70 L311.74 267.27 L311.91 266.88 L312.08 266.52 L312.25 266.19 L312.42 265.89 L312.59 265.62 L312.77 265.37 L312.94 265.14 L313.11 264.93 L313.28 264.74 L313.45 264.56 L313.62 264.40 L313.79 264.26 L313.96 264.13 L314.13 264.01 L314.30 263.91 L314.47 263.81 L314.64 263.73 L314.81 263.67 L314.98 263.61 L315.15 263.57 L315.32 263.53 L315.49 263.51 L315.66 263.50 L315.84 263.50 L316.01 263.51 L316.18 263.53 L316.35 263.57 L316.52 263.61 L316.69 263.67 L316.86 263.73 L317.03 263.81 L317.20 263.91 L317.37 264.01 L317.54 264.13 L317.71 264.26 L317.88 264.40 L318.05 264.56 L318.22 264.74 L318.39 264.93 L318.56 265.14 L318.73 265.37 L318.91 265.62 L319.08 265.89 L319.25 266.19 L319.42 266.52 L319.59 266.88 L319.76 267.27 L319.93 267.70 L320.10 268.17 L320.27 268.71 L320.44 269.30 L320.61 269.98 L320.78 270.75 L320.95 271.65 L321.12 272.72 L321.29 274.04 L321.46 275.76 L321.63 278.17 L321.80 282.25 L321.97 291.00 L322.15 291.00 L322.32 291.00 L322.49 291.00 L322.51 291.00 L322.66 291.00 L322.80 291.00 L322.94 291.00 L323.09 281.35 L323.23 277.27 L323.38 274.86 L323.52 273.14 L323.66 271.82 L323.81 270.75 L323.95 269.85 L324.10 269.08 L324.24 268.40 L324.38 267.81 L324.53 267.27 L324.67 266.80 L324.82 266.37 L324.96 265.98 L325.10 265.62 L325.25 265.29 L325.39 264.99 L325.54 264.72 L325.68 264.47 L325.82 264.24 L325.97 264.03 L326.11 263.84 L326.26 263.66 L326.40 263.50 L326.54 263.36 L326.69 263.23 L326.83 263.11 L326.98 263.01 L327.12 262.91 L327.26 262.83 L327.41 262.77 L327.55 262.71 L327.70 262.67 L327.84 262.63 L327.98 262.61 L328.13 262.60 L328.27 262.60 L328.42 262.61 L328.56 262.63 L328.70 262.67 L328.85 262.71 L328.99 262.77 L329.14 262.83 L329.28 262.91 L329.42 263.01 L329.57 263.11 L329.71 263.23 L329.86 263.36 L330.00 263.50 L330.14 263.66 L330.29 263.84 L330.43 264.03 L330.58 264.24 L330.72 264.47 L330.86 264.72 L331.01 264.99 L331.15 265.29 L331.30 265.62 L331.44 265.98 L331.58 266.37 L331.73 266.80 L331.87 267.27 L332.02 267.81 L332.16 268.40 L332.30 269.08 L332.45 269.85 L332.59 270.75 L332.74 271.82 L332.88 273.14 L333.02 274.86 L333.17 277.27 L333.31 281.35 L333.46 291.00 L333.60 291.00 L333.74 291.00 L333.89 291.00 L333.91 291.00 L334.05 291.00 L334.19 291.00 L334.33 291.00 L334.47 279.75 L334.61 275.67 L334.75 273.26 L334.89 271.54 L335.03 270.22 L335.17 269.15 L335.31 268.25 L335.45 267.48 L335.59 266.80 L335.73 266.21 L335.87 265.67 L336.01 265.20 L336.15 264.77 L336.29 264.38 L336.44 264.02 L336.58 263.69 L336.72 263.39 L336.86 263.12 L337.00 262.87 L337.14 262.64 L337.28 262.43 L337.42 262.24 L337.56 262.06 L337.70 261.90 L337.84 261.76 L337.98 261.63 L338.12 261.51 L338.26 261.41 L338.40 261.31 L338.54 261.23 L338.68 261.17 L338.82 261.11 L338.96 261.07 L339.10 261.03 L339.24 261.01 L339.38 261.00 L339.52 261.00 L339.66 261.01 L339.80 261.03 L339.94 261.07 L340.08 261.11 L340.22 261.17 L340.36 261.23 L340.50 261.31 L340.64 261.41 L340.78 261.51 L340.92 261.63 L341.06 261.76 L341.20 261.90 L341.34 262.06 L341.48 262.24 L341.62 262.43 L341.76 262.64 L341.90 262.87 L342.04 263.12 L342.18 263.39 L342.32 263.69 L342.46 264.02 L342.61 264.38 L342.75 264.77 L342.89 265.20 L343.03 265.67 L343.17 266.21 L343.31 266.80 L343.45 267.48 L343.59 268.25 L343.73 269.15 L343.87 270.22 L344.01 271.54 L344.15 273.26 L344.29 275.67 L344.43 279.75 L344.57 291.00 L344.71 291.00 L344.85 291.00 L344.99 291.00 L345.01 291.00 L345.16 291.00 L345.31 291.00 L345.46 291.00 L345.61 280.05 L345.76 275.97 L345.91 273.56 L346.06 271.84 L346.21 270.52 L346.36 269.45 L346.52 268.55 L346.67 267.78 L346.82 267.10 L346.97 266.51 L347.12 265.97 L347.27 265.50 L347.42 265.07 L347.57 264.68 L347.72 264.32 L347.87 263.99 L348.02 263.69 L348.17 263.42 L348.32 263.17 L348.47 262.94 L348.62 262.73 L348.77 262.54 L348.92 262.36 L349.07 262.20 L349.22 262.06 L349.37 261.93 L349.52 261.81 L349.67 261.71 L349.82 261.61 L349.97 261.53 L350.12 261.47 L350.27 261.41 L350.42 261.37 L350.57 261.33 L350.72 261.31 L350.87 261.30 L351.03 261.30 L351.18 261.31 L351.33 261.33 L351.48 261.37 L351.63 261.41 L351.78 261.47 L351.93 261.53 L352.08 261.61 L352.23 261.71 L352.38 261.81 L352.53 261.93 L352.68 262.06 L352.83 262.20 L352.98 262.36 L353.13 262.54 L353.28 262.73 L353.43 262.94 L353.58 263.17 L353.73 263.42 L353.88 263.69 L354.03 263.99 L354.18 264.32 L354.33 264.68 L354.48 265.07 L354.63 265.50 L354.78 265.97 L354.93 266.51 L355.08 267.10 L355.23 267.78 L355.38 268.55 L355.54 269.45 L355.69 270.52 L355.84 271.84 L355.99 273.56 L356.14 275.97 L356.29 280.05 L356.44 291.00 L356.59 291.00 L356.74 291.00 L356.89 291.00 L356.90 290.00 L356.91 289.50 L356.92 288.99 L356.93 288.49 L356.94 287.98 L356.96 287.48 L356.97 286.98 L356.99 286.47 L357.01 285.97 L357.03 285.47 L357.05 284.96 L357.07 284.46 L357.09 283.96 L357.12 283.46 L357.14 282.95 L357.17 282.45 L357.19 281.95 L357.22 281.44 L357.25 280.94 L357.28 280.44 L357.30 279.94 L357.33 279.43 L357.36 278.93 L357.40 278.43 L357.43 277.93 L357.47 277.42 L357.50 276.92 L357.55 276.42 L357.59 275.91 L357.63 275.41 L357.68 274.91 L357.73 274.41 L357.78 273.91 L357.83 273.41 L357.89 272.91 L357.95 272.41 L358.01 271.91 L358.08 271.41 L358.15 270.91 L358.24 270.42 L358.33 269.92 L358.43 269.42 L358.53 268.93 L358.64 268.43 L358.76 267.94 L358.88 267.46 L359.01 266.97 L359.15 266.49 L359.30 266.01 L359.47 265.53 L359.65 265.05 L359.84 264.58 L360.04 264.12 L360.26 263.67 L360.49 263.23 L360.73 262.78 L360.99 262.34 L361.28 261.90 L361.59 261.49 L361.93 261.13 L362.30 260.82 L362.76 260.53 L363.22 260.40 L363.67 260.57 L364.10 260.93 L364.41 261.32 L364.63 261.72 L364.82 262.16 L364.98 262.64 L365.12 263.15 L365.25 263.67 L365.36 264.18 L365.48 264.69 L365.58 265.18 L365.68 265.67 L365.77 266.17 L365.86 266.66 L365.94 267.16 L366.01 267.66 L366.09 268.16 L366.17 268.66 L366.24 269.16 L366.33 269.66 L366.40 270.26 L366.48 270.91 L366.56 271.55 L366.64 272.10 L366.72 272.47 L366.81 272.60 L366.90 272.42 L367.01 271.99 L367.11 271.41 L367.22 270.76 L367.33 270.13 L367.44 269.61 L367.54 269.12 L367.64 268.62 L367.74 268.13 L367.84 267.63 L367.94 267.14 L368.04 266.64 L368.16 266.16 L368.28 265.67 L368.41 265.18 L368.55 264.69 L368.70 264.20 L368.86 263.71 L369.03 263.24 L369.22 262.77 L369.43 262.33 L369.68 261.88 L369.98 261.37 L370.32 260.89 L370.67 260.53 L371.01 260.40 L371.38 260.56 L371.76 260.95 L372.11 261.44 L372.37 261.92 L372.53 262.35 L372.67 262.81 L372.79 263.28 L372.90 263.78 L372.99 264.28 L373.08 264.79 L373.16 265.31 L373.23 265.83 L373.31 266.34 L373.38 266.85 L373.45 267.35 L373.52 267.84 L373.59 268.34 L373.65 268.84 L373.71 269.34 L373.77 269.84 L373.83 270.34 L373.88 270.84 L373.93 271.35 L373.99 271.85 L374.04 272.35 L374.09 272.85 L374.13 273.37 L374.18 273.96 L374.22 274.59 L374.26 275.25 L374.30 275.92 L374.34 276.57 L374.38 277.19 L374.42 277.75 L374.46 278.23 L374.50 278.61 L374.54 278.87 L374.59 278.99 L374.63 278.96 L374.68 278.76 L374.73 278.44 L374.78 278.01 L374.82 277.49 L374.87 276.90 L374.92 276.27 L374.97 275.60 L375.03 274.94 L375.08 274.29 L375.13 273.67 L375.19 273.12 L375.24 272.62 L375.29 272.11 L375.35 271.61 L375.40 271.11 L375.45 270.61 L375.51 270.10 L375.56 269.60 L375.62 269.10 L375.68 268.60 L375.75 268.10 L375.82 267.60 L375.90 267.11 L375.98 266.62 L376.07 266.12 L376.17 265.62 L376.28 265.12 L376.40 264.61 L376.54 264.11 L376.68 263.62 L376.84 263.14 L377.02 262.67 L377.20 262.22 L377.41 261.79 L377.66 261.33 L377.97 260.83 L378.33 260.37 L378.71 260.00 L379.08 259.81 L379.46 259.87 L379.87 260.17 L380.27 260.59 L380.61 261.01 L380.86 261.42 L381.07 261.88 L381.27 262.36 L381.47 262.84 L381.71 263.28 L382.04 263.71 L382.40 264.00 L382.70 263.76 L382.98 263.24 L383.24 262.74 L383.46 262.28 L383.66 261.80 L383.87 261.33 L384.10 260.89 L384.38 260.51 L384.73 260.17 L385.14 259.87 L385.60 259.60" fill="none" stroke="#1c1cff" stroke-width="1.45" stroke-dasharray="1.1 0.85" stroke-linejoin="round"/>
</g>
<rect x="45.50" y="30.50" width="347.10" height="215.90" fill="none" stroke="#c4c4c4" stroke-width="0.9"/>
<rect x="38.50" y="252.40" width="354.10" height="35.80" fill="none" stroke="#c4c4c4" stroke-width="0.9"/>
<g fill="none">
<path d="M52.09 30.50v1.70M52.09 246.40v-1.70" stroke="#4a4a4a" stroke-width="0.7"/>
<path d="M71.04 30.50v1.70M71.04 246.40v-1.70" stroke="#4a4a4a" stroke-width="0.7"/>
<path d="M84.48 30.50v1.70M84.48 246.40v-1.70" stroke="#4a4a4a" stroke-width="0.7"/>
<path d="M94.91 30.50v2.90M94.91 246.40v-2.90" stroke="#9a9a9a" stroke-width="0.7"/>
<path d="M103.43 30.50v1.70M103.43 246.40v-1.70" stroke="#4a4a4a" stroke-width="0.7"/>
<path d="M110.63 30.50v1.70M110.63 246.40v-1.70" stroke="#4a4a4a" stroke-width="0.7"/>
<path d="M116.87 30.50v1.70M116.87 246.40v-1.70" stroke="#4a4a4a" stroke-width="0.7"/>
<path d="M122.38 30.50v1.70M122.38 246.40v-1.70" stroke="#4a4a4a" stroke-width="0.7"/>
<path d="M127.30 30.50v2.90M127.30 246.40v-2.90" stroke="#9a9a9a" stroke-width="0.7"/>
<path d="M159.69 30.50v1.70M159.69 246.40v-1.70" stroke="#4a4a4a" stroke-width="0.7"/>
<path d="M178.64 30.50v1.70M178.64 246.40v-1.70" stroke="#4a4a4a" stroke-width="0.7"/>
<path d="M192.08 30.50v1.70M192.08 246.40v-1.70" stroke="#4a4a4a" stroke-width="0.7"/>
<path d="M202.51 30.50v2.90M202.51 246.40v-2.90" stroke="#9a9a9a" stroke-width="0.7"/>
<path d="M211.03 30.50v1.70M211.03 246.40v-1.70" stroke="#4a4a4a" stroke-width="0.7"/>
<path d="M218.23 30.50v1.70M218.23 246.40v-1.70" stroke="#4a4a4a" stroke-width="0.7"/>
<path d="M224.47 30.50v1.70M224.47 246.40v-1.70" stroke="#4a4a4a" stroke-width="0.7"/>
<path d="M229.98 30.50v1.70M229.98 246.40v-1.70" stroke="#4a4a4a" stroke-width="0.7"/>
<path d="M234.90 30.50v2.90M234.90 246.40v-2.90" stroke="#9a9a9a" stroke-width="0.7"/>
<path d="M267.29 30.50v1.70M267.29 246.40v-1.70" stroke="#4a4a4a" stroke-width="0.7"/>
<path d="M286.24 30.50v1.70M286.24 246.40v-1.70" stroke="#4a4a4a" stroke-width="0.7"/>
<path d="M299.68 30.50v1.70M299.68 246.40v-1.70" stroke="#4a4a4a" stroke-width="0.7"/>
<path d="M310.11 30.50v2.90M310.11 246.40v-2.90" stroke="#9a9a9a" stroke-width="0.7"/>
<path d="M318.63 30.50v1.70M318.63 246.40v-1.70" stroke="#4a4a4a" stroke-width="0.7"/>
<path d="M325.83 30.50v1.70M325.83 246.40v-1.70" stroke="#4a4a4a" stroke-width="0.7"/>
<path d="M332.07 30.50v1.70M332.07 246.40v-1.70" stroke="#4a4a4a" stroke-width="0.7"/>
<path d="M337.58 30.50v1.70M337.58 246.40v-1.70" stroke="#4a4a4a" stroke-width="0.7"/>
<path d="M342.50 30.50v2.90M342.50 246.40v-2.90" stroke="#9a9a9a" stroke-width="0.7"/>
<path d="M374.89 30.50v1.70M374.89 246.40v-1.70" stroke="#4a4a4a" stroke-width="0.7"/>
<path d="M45.50 223.30h2.90M392.60 223.30h-2.90" stroke="#9a9a9a" stroke-width="0.7"/>
<path d="M45.50 190.91h2.90M392.60 190.91h-2.90" stroke="#9a9a9a" stroke-width="0.7"/>
<path d="M45.50 171.96h1.70" stroke="#4a4a4a" stroke-width="0.7"/>
<path d="M45.50 158.52h1.70" stroke="#4a4a4a" stroke-width="0.7"/>
<path d="M45.50 148.09h2.90M392.60 148.09h-2.90" stroke="#9a9a9a" stroke-width="0.7"/>
<path d="M45.50 139.57h1.70" stroke="#4a4a4a" stroke-width="0.7"/>
<path d="M45.50 132.37h1.70" stroke="#4a4a4a" stroke-width="0.7"/>
<path d="M45.50 126.13h1.70" stroke="#4a4a4a" stroke-width="0.7"/>
<path d="M45.50 120.62h1.70" stroke="#4a4a4a" stroke-width="0.7"/>
<path d="M45.50 115.70h2.90M392.60 115.70h-2.90" stroke="#9a9a9a" stroke-width="0.7"/>
<path d="M45.50 83.31h2.90M392.60 83.31h-2.90" stroke="#9a9a9a" stroke-width="0.7"/>
<path d="M45.50 64.36h1.70" stroke="#4a4a4a" stroke-width="0.7"/>
<path d="M45.50 50.92h1.70" stroke="#4a4a4a" stroke-width="0.7"/>
<path d="M45.50 40.49h2.90M392.60 40.49h-2.90" stroke="#9a9a9a" stroke-width="0.7"/>
<path d="M45.50 31.97h1.70" stroke="#4a4a4a" stroke-width="0.7"/>
<path d="M45.48 252.40v1.60M45.48 288.20v-1.60" stroke="#4a4a4a" stroke-width="0.7"/>
<path d="M64.84 252.40v1.60M64.84 288.20v-1.60" stroke="#4a4a4a" stroke-width="0.7"/>
<path d="M78.57 252.40v1.60M78.57 288.20v-1.60" stroke="#4a4a4a" stroke-width="0.7"/>
<path d="M89.22 252.40v2.70M89.22 288.20v-2.70" stroke="#9a9a9a" stroke-width="0.7"/>
<path d="M97.92 252.40v1.60M97.92 288.20v-1.60" stroke="#4a4a4a" stroke-width="0.7"/>
<path d="M105.28 252.40v1.60M105.28 288.20v-1.60" stroke="#4a4a4a" stroke-width="0.7"/>
<path d="M111.65 252.40v1.60M111.65 288.20v-1.60" stroke="#4a4a4a" stroke-width="0.7"/>
<path d="M117.27 252.40v1.60M117.27 288.20v-1.60" stroke="#4a4a4a" stroke-width="0.7"/>
<path d="M122.30 252.40v2.70M122.30 288.20v-2.70" stroke="#9a9a9a" stroke-width="0.7"/>
<path d="M155.38 252.40v1.60M155.38 288.20v-1.60" stroke="#4a4a4a" stroke-width="0.7"/>
<path d="M174.74 252.40v1.60M174.74 288.20v-1.60" stroke="#4a4a4a" stroke-width="0.7"/>
<path d="M188.47 252.40v1.60M188.47 288.20v-1.60" stroke="#4a4a4a" stroke-width="0.7"/>
<path d="M199.12 252.40v2.70M199.12 288.20v-2.70" stroke="#9a9a9a" stroke-width="0.7"/>
<path d="M207.82 252.40v1.60M207.82 288.20v-1.60" stroke="#4a4a4a" stroke-width="0.7"/>
<path d="M215.18 252.40v1.60M215.18 288.20v-1.60" stroke="#4a4a4a" stroke-width="0.7"/>
<path d="M221.55 252.40v1.60M221.55 288.20v-1.60" stroke="#4a4a4a" stroke-width="0.7"/>
<path d="M227.17 252.40v1.60M227.17 288.20v-1.60" stroke="#4a4a4a" stroke-width="0.7"/>
<path d="M232.20 252.40v2.70M232.20 288.20v-2.70" stroke="#9a9a9a" stroke-width="0.7"/>
<path d="M265.28 252.40v1.60M265.28 288.20v-1.60" stroke="#4a4a4a" stroke-width="0.7"/>
<path d="M284.64 252.40v1.60M284.64 288.20v-1.60" stroke="#4a4a4a" stroke-width="0.7"/>
<path d="M298.37 252.40v1.60M298.37 288.20v-1.60" stroke="#4a4a4a" stroke-width="0.7"/>
<path d="M309.02 252.40v2.70M309.02 288.20v-2.70" stroke="#9a9a9a" stroke-width="0.7"/>
<path d="M317.72 252.40v1.60M317.72 288.20v-1.60" stroke="#4a4a4a" stroke-width="0.7"/>
<path d="M325.08 252.40v1.60M325.08 288.20v-1.60" stroke="#4a4a4a" stroke-width="0.7"/>
<path d="M331.45 252.40v1.60M331.45 288.20v-1.60" stroke="#4a4a4a" stroke-width="0.7"/>
<path d="M337.07 252.40v1.60M337.07 288.20v-1.60" stroke="#4a4a4a" stroke-width="0.7"/>
<path d="M342.10 252.40v2.70M342.10 288.20v-2.70" stroke="#9a9a9a" stroke-width="0.7"/>
<path d="M375.18 252.40v2.70M375.18 288.20v-2.70" stroke="#9a9a9a" stroke-width="0.7"/>
<path d="M38.50 264.10h1.6M392.60 264.10h-1.6" stroke="#c4c4c4" stroke-width="0.6"/>
<path d="M38.50 255.61h1.6M392.60 255.61h-1.6" stroke="#c4c4c4" stroke-width="0.6"/>
</g>
<g fill="#000" opacity="0.99">
<text x="92.90" y="27.90" textLength="4.42" font-family="Liberation Serif" font-weight="bold" font-size="9.7" stroke="#000" stroke-width="0.2" lengthAdjust="spacingAndGlyphs">5</text>
<text x="123.08" y="27.90" textLength="8.84" font-family="Liberation Serif" font-weight="bold" font-size="9.7" stroke="#000" stroke-width="0.2" lengthAdjust="spacingAndGlyphs">10</text>
<text x="198.29" y="27.90" textLength="8.84" font-family="Liberation Serif" font-weight="bold" font-size="9.7" stroke="#000" stroke-width="0.2" lengthAdjust="spacingAndGlyphs">50</text>
<text x="228.47" y="27.90" textLength="13.26" font-family="Liberation Serif" font-weight="bold" font-size="9.7" stroke="#000" stroke-width="0.2" lengthAdjust="spacingAndGlyphs">100</text>
<text x="303.68" y="27.90" textLength="13.26" font-family="Liberation Serif" font-weight="bold" font-size="9.7" stroke="#000" stroke-width="0.2" lengthAdjust="spacingAndGlyphs">500</text>
<text x="333.86" y="27.90" textLength="17.68" font-family="Liberation Serif" font-weight="bold" font-size="9.7" stroke="#000" stroke-width="0.2" lengthAdjust="spacingAndGlyphs">1000</text>
<text x="87.01" y="296.70" textLength="4.42" font-family="Liberation Serif" font-weight="bold" font-size="9.7" stroke="#000" stroke-width="0.2" lengthAdjust="spacingAndGlyphs">5</text>
<text x="117.88" y="296.70" textLength="8.84" font-family="Liberation Serif" font-weight="bold" font-size="9.7" stroke="#000" stroke-width="0.2" lengthAdjust="spacingAndGlyphs">10</text>
<text x="194.70" y="296.70" textLength="8.84" font-family="Liberation Serif" font-weight="bold" font-size="9.7" stroke="#000" stroke-width="0.2" lengthAdjust="spacingAndGlyphs">50</text>
<text x="225.57" y="296.70" textLength="13.26" font-family="Liberation Serif" font-weight="bold" font-size="9.7" stroke="#000" stroke-width="0.2" lengthAdjust="spacingAndGlyphs">100</text>
<text x="302.39" y="296.70" textLength="13.26" font-family="Liberation Serif" font-weight="bold" font-size="9.7" stroke="#000" stroke-width="0.2" lengthAdjust="spacingAndGlyphs">500</text>
<text x="333.26" y="296.70" textLength="17.68" font-family="Liberation Serif" font-weight="bold" font-size="9.7" stroke="#000" stroke-width="0.2" lengthAdjust="spacingAndGlyphs">1000</text>
<text x="366.34" y="296.70" textLength="17.68" font-family="Liberation Serif" font-weight="bold" font-size="9.7" stroke="#000" stroke-width="0.2" lengthAdjust="spacingAndGlyphs">2000</text>
<text x="26.72" y="42.84" textLength="17.68" font-family="Liberation Serif" font-weight="bold" font-size="9.7" stroke="#000" stroke-width="0.2" lengthAdjust="spacingAndGlyphs">5000</text>
<text x="394.40" y="42.84" textLength="17.68" font-family="Liberation Serif" font-weight="bold" font-size="9.7" stroke="#000" stroke-width="0.2" lengthAdjust="spacingAndGlyphs">5000</text>
<text x="26.72" y="85.66" textLength="17.68" font-family="Liberation Serif" font-weight="bold" font-size="9.7" stroke="#000" stroke-width="0.2" lengthAdjust="spacingAndGlyphs">2000</text>
<text x="394.40" y="85.66" textLength="17.68" font-family="Liberation Serif" font-weight="bold" font-size="9.7" stroke="#000" stroke-width="0.2" lengthAdjust="spacingAndGlyphs">2000</text>
<text x="26.72" y="118.05" textLength="17.68" font-family="Liberation Serif" font-weight="bold" font-size="9.7" stroke="#000" stroke-width="0.2" lengthAdjust="spacingAndGlyphs">1000</text>
<text x="394.40" y="118.05" textLength="17.68" font-family="Liberation Serif" font-weight="bold" font-size="9.7" stroke="#000" stroke-width="0.2" lengthAdjust="spacingAndGlyphs">1000</text>
<text x="31.14" y="150.44" textLength="13.26" font-family="Liberation Serif" font-weight="bold" font-size="9.7" stroke="#000" stroke-width="0.2" lengthAdjust="spacingAndGlyphs">500</text>
<text x="394.40" y="150.44" textLength="13.26" font-family="Liberation Serif" font-weight="bold" font-size="9.7" stroke="#000" stroke-width="0.2" lengthAdjust="spacingAndGlyphs">500</text>
<text x="31.14" y="193.26" textLength="13.26" font-family="Liberation Serif" font-weight="bold" font-size="9.7" stroke="#000" stroke-width="0.2" lengthAdjust="spacingAndGlyphs">200</text>
<text x="394.40" y="193.26" textLength="13.26" font-family="Liberation Serif" font-weight="bold" font-size="9.7" stroke="#000" stroke-width="0.2" lengthAdjust="spacingAndGlyphs">200</text>
<text x="31.14" y="225.65" textLength="13.26" font-family="Liberation Serif" font-weight="bold" font-size="9.7" stroke="#000" stroke-width="0.2" lengthAdjust="spacingAndGlyphs">100</text>
<text x="394.40" y="225.65" textLength="13.26" font-family="Liberation Serif" font-weight="bold" font-size="9.7" stroke="#000" stroke-width="0.2" lengthAdjust="spacingAndGlyphs">100</text>
<text x="32.58" y="266.90" textLength="4.42" font-family="Liberation Serif" font-weight="bold" font-size="9.7" stroke="#000" stroke-width="0.2" lengthAdjust="spacingAndGlyphs">1</text>
<text x="394.40" y="266.90" textLength="4.42" font-family="Liberation Serif" font-weight="bold" font-size="9.7" stroke="#000" stroke-width="0.2" lengthAdjust="spacingAndGlyphs">1</text>
<text x="32.58" y="258.41" textLength="4.42" font-family="Liberation Serif" font-weight="bold" font-size="9.7" stroke="#000" stroke-width="0.2" lengthAdjust="spacingAndGlyphs">4</text>
<text x="394.40" y="258.41" textLength="4.42" font-family="Liberation Serif" font-weight="bold" font-size="9.7" stroke="#000" stroke-width="0.2" lengthAdjust="spacingAndGlyphs">4</text>
<text transform="translate(9.5 142.0) rotate(-90)" font-family="Liberation Serif" font-size="11" stroke="#000" stroke-width="0.22" textLength="36.0" lengthAdjust="spacingAndGlyphs">D<tspan font-size="7.5" dy="1.6">l</tspan><tspan dy="-1.6">[</tspan><tspan font-style="italic">μ</tspan>K<tspan font-size="7.5" dy="-3.6">2</tspan><tspan dy="3.6">]</tspan></text>
<text transform="translate(8.6 283.6) rotate(-90)" font-family="Liberation Serif" font-size="11" stroke="#000" stroke-width="0.22" textLength="16.8" lengthAdjust="spacingAndGlyphs">ΔD<tspan font-size="7.5" dy="1.6">l</tspan></text>
<text x="213.2" y="306.0" text-anchor="middle" font-family="Liberation Serif" font-size="10.5">l</text>
</g>
<g opacity="0.99">
<path d="M74 166.70H82.4" stroke="#ff2020" stroke-width="1.7" stroke-dasharray="2.4 0.6" opacity="0.88"/>
<path d="M74 183.40H82.4" stroke="#ff8a10" stroke-width="1.7" stroke-dasharray="3.4 1.7" opacity="0.88"/>
<path d="M74 199.80H82.4" stroke="#30e830" stroke-width="1.7" opacity="0.88"/>
<path d="M74 216.40H82.4" stroke="#ff10ff" stroke-width="1.7" stroke-dasharray="2.6 1 1 1" opacity="0.88"/>
<path d="M74 232.80H82.4" stroke="#2020ff" stroke-width="1.7" stroke-dasharray="1.3 1.1" opacity="0.88"/>
<text x="174.3" y="169.10" font-family="Liberation Serif" font-size="9.60" fill="#000" stroke="#000" stroke-width="0.05" textLength="157.7" lengthAdjust="spacingAndGlyphs"><tspan font-style="italic">N</tspan><tspan font-size="7.0" dy="1.4">eff</tspan><tspan dy="-1.4">=2.0, w=−1.1744, </tspan><tspan font-style="italic">Y</tspan><tspan font-size="7.0" font-style="italic" dy="1.4">p</tspan><tspan dy="-1.4">=0.3049, </tspan><tspan font-style="italic">A</tspan><tspan font-size="7.0" font-style="italic" dy="1.4">s</tspan><tspan font-size="7.0" dy="-4.6">9</tspan><tspan dy="3.2">=2.10</tspan></text>
<text x="174.3" y="185.80" font-family="Liberation Serif" font-size="9.60" fill="#000" stroke="#000" stroke-width="0.05" textLength="157.7" lengthAdjust="spacingAndGlyphs"><tspan font-style="italic">N</tspan><tspan font-size="7.0" dy="1.4">eff</tspan><tspan dy="-1.4">=2.5, w=−1.0872, </tspan><tspan font-style="italic">Y</tspan><tspan font-size="7.0" font-style="italic" dy="1.4">p</tspan><tspan dy="-1.4">=0.2782, </tspan><tspan font-style="italic">A</tspan><tspan font-size="7.0" font-style="italic" dy="1.4">s</tspan><tspan font-size="7.0" dy="-4.6">9</tspan><tspan dy="3.2">=2.16</tspan></text>
<text x="174.3" y="202.20" font-family="Liberation Serif" font-size="9.60" fill="#000" stroke="#000" stroke-width="0.05" textLength="143.4" lengthAdjust="spacingAndGlyphs"><tspan font-style="italic">N</tspan><tspan font-size="7.0" dy="1.4">eff</tspan><tspan dy="-1.4">=3.046, w=−1.0, </tspan><tspan font-style="italic">Y</tspan><tspan font-size="7.0" font-style="italic" dy="1.4">p</tspan><tspan dy="-1.4">=0.25, </tspan><tspan font-style="italic">A</tspan><tspan font-size="7.0" font-style="italic" dy="1.4">s</tspan><tspan font-size="7.0" dy="-4.6">9</tspan><tspan dy="3.2">=2.21</tspan></text>
<text x="174.3" y="218.80" font-family="Liberation Serif" font-size="9.60" fill="#000" stroke="#000" stroke-width="0.05" textLength="157.7" lengthAdjust="spacingAndGlyphs"><tspan font-style="italic">N</tspan><tspan font-size="7.0" dy="1.4">eff</tspan><tspan dy="-1.4">=3.5, w=−0.9331, </tspan><tspan font-style="italic">Y</tspan><tspan font-size="7.0" font-style="italic" dy="1.4">p</tspan><tspan dy="-1.4">=0.2274, </tspan><tspan font-style="italic">A</tspan><tspan font-size="7.0" font-style="italic" dy="1.4">s</tspan><tspan font-size="7.0" dy="-4.6">9</tspan><tspan dy="3.2">=2.22</tspan></text>
<text x="174.3" y="235.20" font-family="Liberation Serif" font-size="9.60" fill="#000" stroke="#000" stroke-width="0.05" textLength="157.7" lengthAdjust="spacingAndGlyphs"><tspan font-style="italic">N</tspan><tspan font-size="7.0" dy="1.4">eff</tspan><tspan dy="-1.4">=4.0, w=−0.8644, </tspan><tspan font-style="italic">Y</tspan><tspan font-size="7.0" font-style="italic" dy="1.4">p</tspan><tspan dy="-1.4">=0.2032, </tspan><tspan font-style="italic">A</tspan><tspan font-size="7.0" font-style="italic" dy="1.4">s</tspan><tspan font-size="7.0" dy="-4.6">9</tspan><tspan dy="3.2">=2.27</tspan></text>
<text x="187.3" y="153.4" font-family="Liberation Serif" font-size="9.60" fill="#000" stroke="#000" stroke-width="0.05" textLength="40.6" lengthAdjust="spacingAndGlyphs">Varying <tspan font-style="italic">A</tspan><tspan font-size="7.0" font-style="italic" dy="1.4">S</tspan></text>
</g>
</svg>
</body></html>
